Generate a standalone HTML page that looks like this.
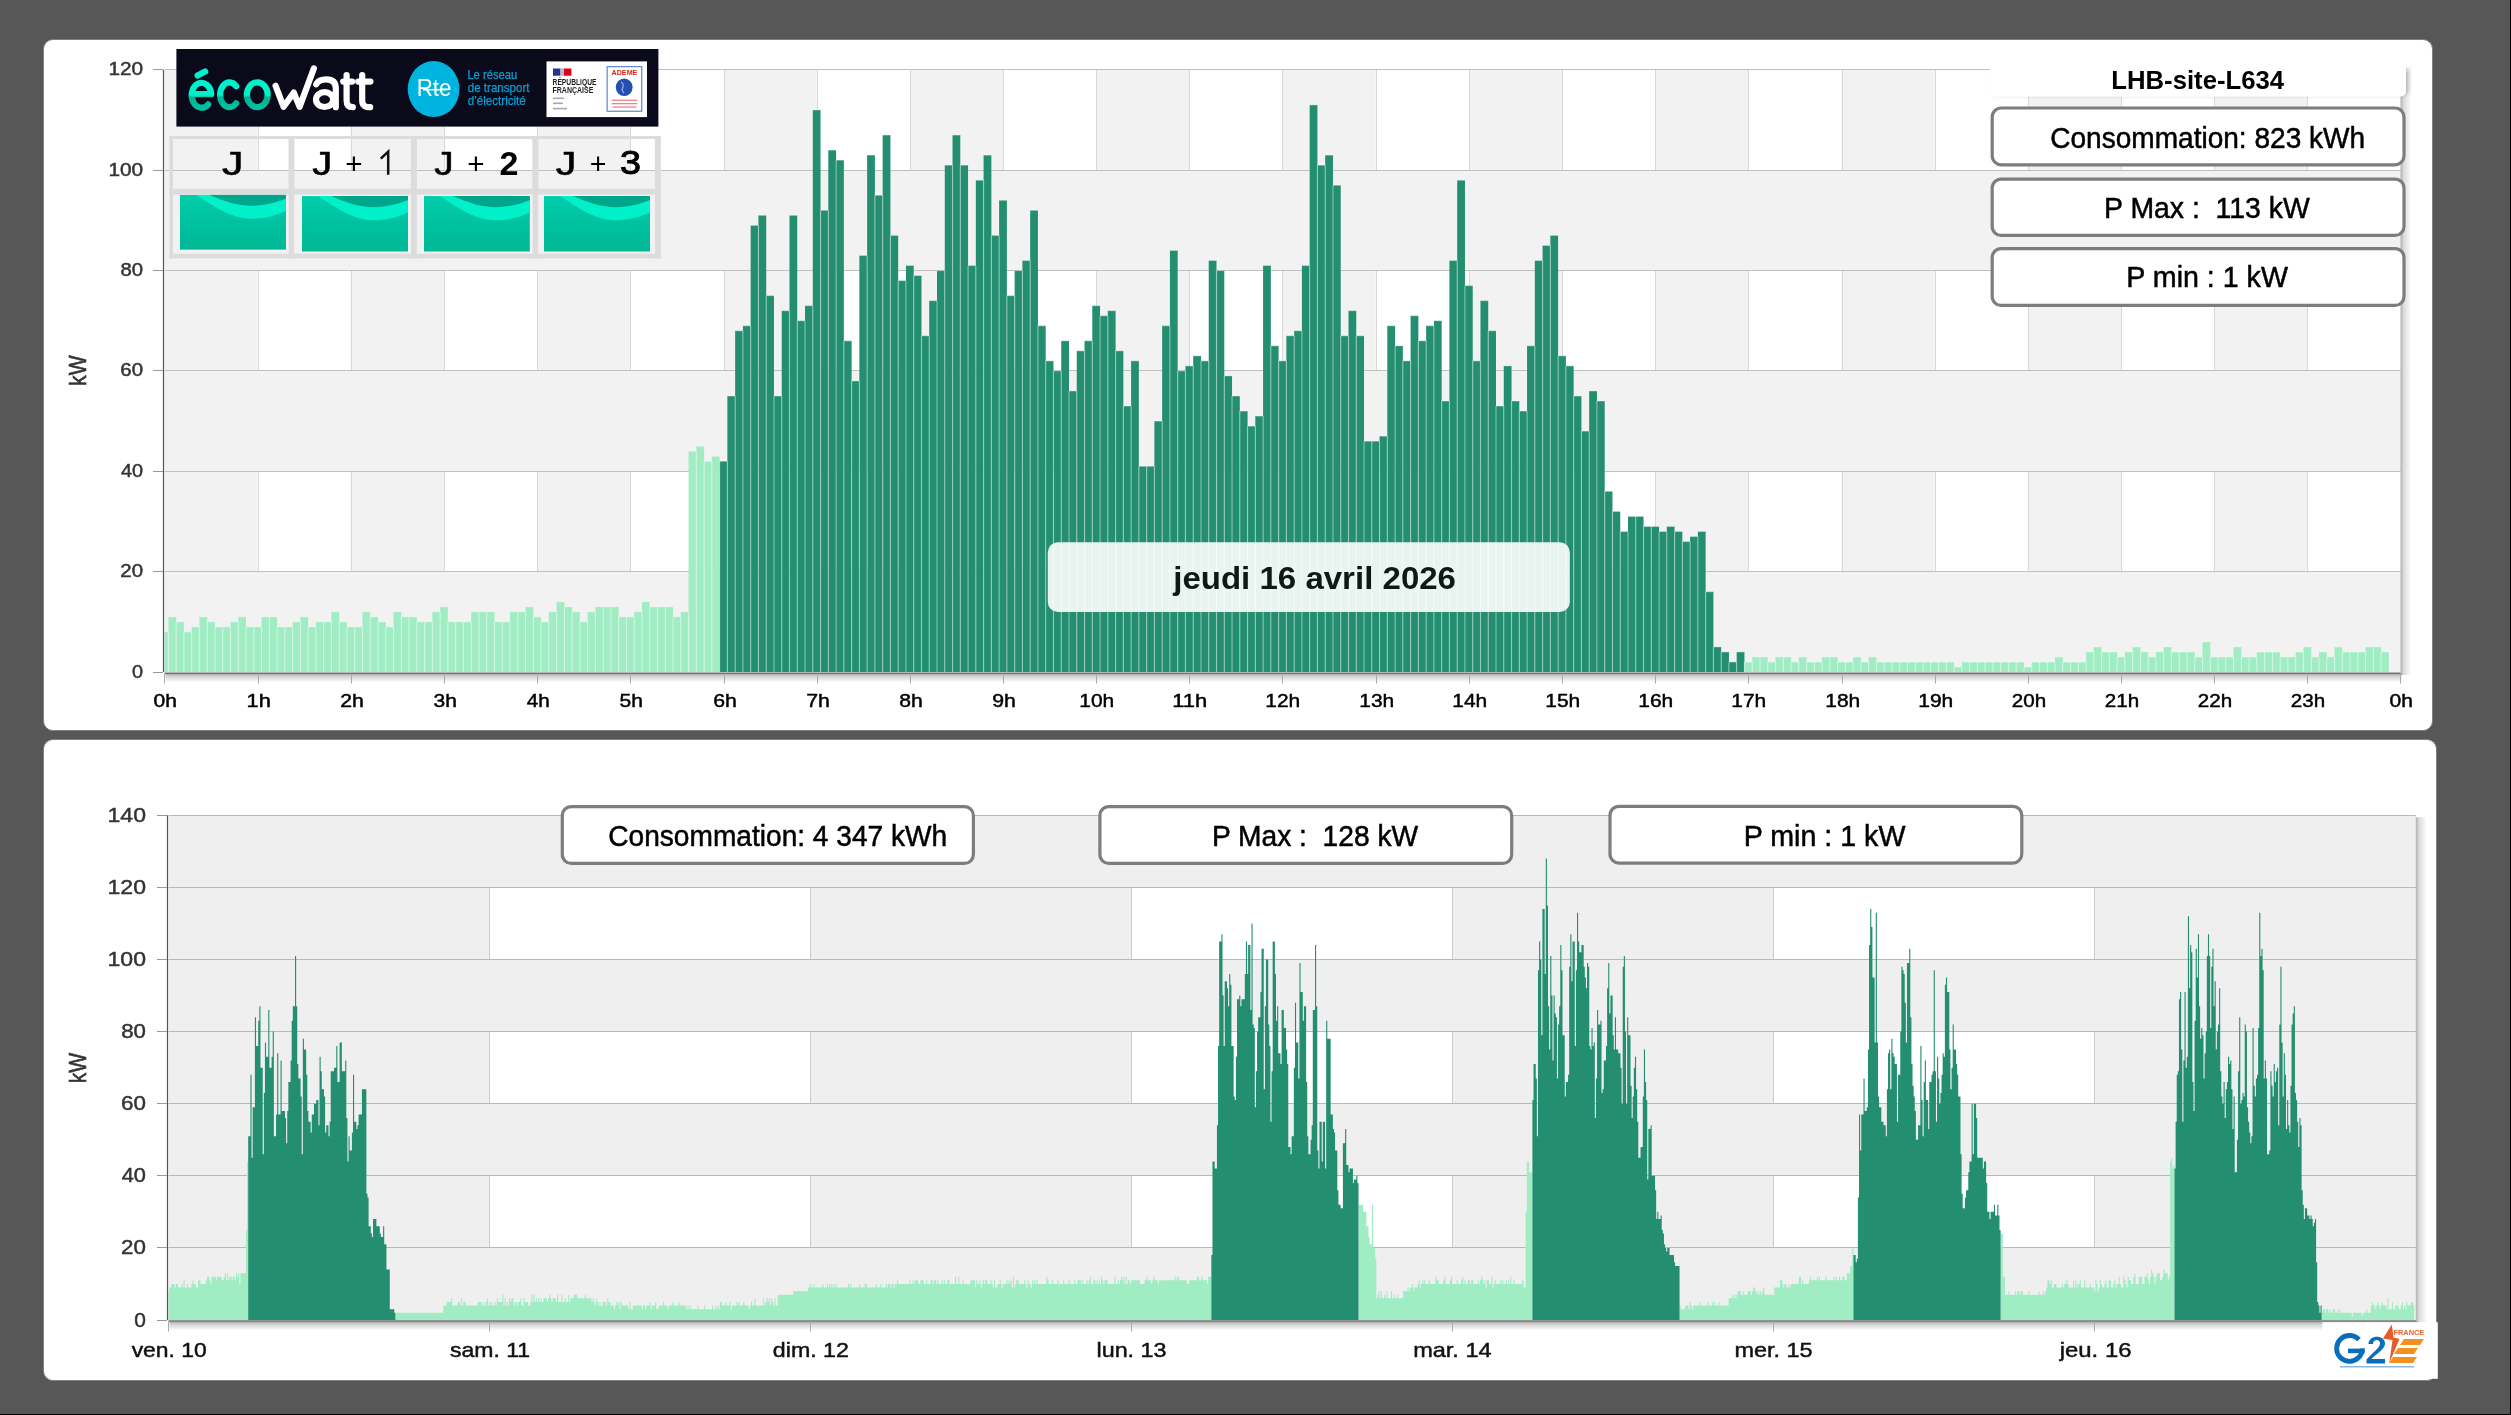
<!DOCTYPE html>
<html><head><meta charset="utf-8"><style>
html,body{margin:0;padding:0}
body{width:2511px;height:1415px;background:#575757;overflow:hidden;position:relative;font-family:"Liberation Sans",sans-serif}
.panel{position:absolute;background:#fff;border:1px solid #7f7f7f;border-radius:10px;box-sizing:border-box}
svg{position:absolute;left:0;top:0;font-family:"Liberation Sans",sans-serif;will-change:transform}
</style></head><body>
<div class="panel" style="left:43px;top:39px;width:2390px;height:692px"></div>
<div class="panel" style="left:43px;top:739px;width:2394px;height:642px"></div>
<svg width="2511" height="1415" viewBox="0 0 2511 1415">
<rect x="164.5" y="69.8" width="2236" height="602.2" fill="#fff"/>
<rect x="164.5" y="69.8" width="93.17" height="602.2" fill="#f2f2f2"/>
<rect x="350.83" y="69.8" width="93.17" height="602.2" fill="#f2f2f2"/>
<rect x="537.17" y="69.8" width="93.17" height="602.2" fill="#f2f2f2"/>
<rect x="723.5" y="69.8" width="93.17" height="602.2" fill="#f2f2f2"/>
<rect x="909.83" y="69.8" width="93.17" height="602.2" fill="#f2f2f2"/>
<rect x="1096.17" y="69.8" width="93.17" height="602.2" fill="#f2f2f2"/>
<rect x="1282.5" y="69.8" width="93.17" height="602.2" fill="#f2f2f2"/>
<rect x="1468.83" y="69.8" width="93.17" height="602.2" fill="#f2f2f2"/>
<rect x="1655.17" y="69.8" width="93.17" height="602.2" fill="#f2f2f2"/>
<rect x="1841.5" y="69.8" width="93.17" height="602.2" fill="#f2f2f2"/>
<rect x="2027.83" y="69.8" width="93.17" height="602.2" fill="#f2f2f2"/>
<rect x="2214.17" y="69.8" width="93.17" height="602.2" fill="#f2f2f2"/>
<line x1="258.5" y1="69.8" x2="258.5" y2="672.0" stroke="#d8d8d8"/>
<line x1="351.5" y1="69.8" x2="351.5" y2="672.0" stroke="#d8d8d8"/>
<line x1="444.5" y1="69.8" x2="444.5" y2="672.0" stroke="#d8d8d8"/>
<line x1="537.5" y1="69.8" x2="537.5" y2="672.0" stroke="#d8d8d8"/>
<line x1="630.5" y1="69.8" x2="630.5" y2="672.0" stroke="#d8d8d8"/>
<line x1="724.5" y1="69.8" x2="724.5" y2="672.0" stroke="#d8d8d8"/>
<line x1="817.5" y1="69.8" x2="817.5" y2="672.0" stroke="#d8d8d8"/>
<line x1="910.5" y1="69.8" x2="910.5" y2="672.0" stroke="#d8d8d8"/>
<line x1="1003.5" y1="69.8" x2="1003.5" y2="672.0" stroke="#d8d8d8"/>
<line x1="1096.5" y1="69.8" x2="1096.5" y2="672.0" stroke="#d8d8d8"/>
<line x1="1189.5" y1="69.8" x2="1189.5" y2="672.0" stroke="#d8d8d8"/>
<line x1="1282.5" y1="69.8" x2="1282.5" y2="672.0" stroke="#d8d8d8"/>
<line x1="1376.5" y1="69.8" x2="1376.5" y2="672.0" stroke="#d8d8d8"/>
<line x1="1469.5" y1="69.8" x2="1469.5" y2="672.0" stroke="#d8d8d8"/>
<line x1="1562.5" y1="69.8" x2="1562.5" y2="672.0" stroke="#d8d8d8"/>
<line x1="1655.5" y1="69.8" x2="1655.5" y2="672.0" stroke="#d8d8d8"/>
<line x1="1748.5" y1="69.8" x2="1748.5" y2="672.0" stroke="#d8d8d8"/>
<line x1="1842.5" y1="69.8" x2="1842.5" y2="672.0" stroke="#d8d8d8"/>
<line x1="1935.5" y1="69.8" x2="1935.5" y2="672.0" stroke="#d8d8d8"/>
<line x1="2028.5" y1="69.8" x2="2028.5" y2="672.0" stroke="#d8d8d8"/>
<line x1="2121.5" y1="69.8" x2="2121.5" y2="672.0" stroke="#d8d8d8"/>
<line x1="2214.5" y1="69.8" x2="2214.5" y2="672.0" stroke="#d8d8d8"/>
<line x1="2307.5" y1="69.8" x2="2307.5" y2="672.0" stroke="#d8d8d8"/>
<rect x="164.5" y="571.63" width="2236" height="100.37" fill="#f2f2f2"/>
<rect x="164.5" y="370.9" width="2236" height="100.37" fill="#f2f2f2"/>
<rect x="164.5" y="170.17" width="2236" height="100.37" fill="#f2f2f2"/>
<line x1="164.5" y1="571.5" x2="2400.5" y2="571.5" stroke="#c0c0c0"/>
<line x1="164.5" y1="471.5" x2="2400.5" y2="471.5" stroke="#c0c0c0"/>
<line x1="164.5" y1="370.5" x2="2400.5" y2="370.5" stroke="#c0c0c0"/>
<line x1="164.5" y1="270.5" x2="2400.5" y2="270.5" stroke="#c0c0c0"/>
<line x1="164.5" y1="170.5" x2="2400.5" y2="170.5" stroke="#c0c0c0"/>
<line x1="164.5" y1="69.5" x2="2400.5" y2="69.5" stroke="#c0c0c0"/>
<rect x="164.5" y="631.85" width="3.88" height="40.15" fill="#a0edc4"/>
<rect x="168.38" y="616.8" width="7.76" height="55.2" fill="#a0edc4"/>
<rect x="176.15" y="621.82" width="7.76" height="50.18" fill="#a0edc4"/>
<rect x="183.91" y="631.85" width="7.76" height="40.15" fill="#a0edc4"/>
<rect x="191.67" y="626.84" width="7.76" height="45.16" fill="#a0edc4"/>
<rect x="199.44" y="616.8" width="7.76" height="55.2" fill="#a0edc4"/>
<rect x="207.2" y="621.82" width="7.76" height="50.18" fill="#a0edc4"/>
<rect x="214.97" y="626.84" width="7.76" height="45.16" fill="#a0edc4"/>
<rect x="222.73" y="626.84" width="7.76" height="45.16" fill="#a0edc4"/>
<rect x="230.49" y="621.82" width="7.76" height="50.18" fill="#a0edc4"/>
<rect x="238.26" y="616.8" width="7.76" height="55.2" fill="#a0edc4"/>
<rect x="246.02" y="626.84" width="7.76" height="45.16" fill="#a0edc4"/>
<rect x="253.78" y="626.84" width="7.76" height="45.16" fill="#a0edc4"/>
<rect x="261.55" y="616.8" width="7.76" height="55.2" fill="#a0edc4"/>
<rect x="269.31" y="616.8" width="7.76" height="55.2" fill="#a0edc4"/>
<rect x="277.08" y="626.84" width="7.76" height="45.16" fill="#a0edc4"/>
<rect x="284.84" y="626.84" width="7.76" height="45.16" fill="#a0edc4"/>
<rect x="292.6" y="621.82" width="7.76" height="50.18" fill="#a0edc4"/>
<rect x="300.37" y="616.8" width="7.76" height="55.2" fill="#a0edc4"/>
<rect x="308.13" y="626.84" width="7.76" height="45.16" fill="#a0edc4"/>
<rect x="315.9" y="621.82" width="7.76" height="50.18" fill="#a0edc4"/>
<rect x="323.66" y="621.82" width="7.76" height="50.18" fill="#a0edc4"/>
<rect x="331.42" y="611.78" width="7.76" height="60.22" fill="#a0edc4"/>
<rect x="339.19" y="621.82" width="7.76" height="50.18" fill="#a0edc4"/>
<rect x="346.95" y="626.84" width="7.76" height="45.16" fill="#a0edc4"/>
<rect x="354.72" y="626.84" width="7.76" height="45.16" fill="#a0edc4"/>
<rect x="362.48" y="611.78" width="7.76" height="60.22" fill="#a0edc4"/>
<rect x="370.24" y="616.8" width="7.76" height="55.2" fill="#a0edc4"/>
<rect x="378.01" y="621.82" width="7.76" height="50.18" fill="#a0edc4"/>
<rect x="385.77" y="626.84" width="7.76" height="45.16" fill="#a0edc4"/>
<rect x="393.53" y="611.78" width="7.76" height="60.22" fill="#a0edc4"/>
<rect x="401.3" y="616.8" width="7.76" height="55.2" fill="#a0edc4"/>
<rect x="409.06" y="616.8" width="7.76" height="55.2" fill="#a0edc4"/>
<rect x="416.83" y="621.82" width="7.76" height="50.18" fill="#a0edc4"/>
<rect x="424.59" y="621.82" width="7.76" height="50.18" fill="#a0edc4"/>
<rect x="432.35" y="611.78" width="7.76" height="60.22" fill="#a0edc4"/>
<rect x="440.12" y="606.76" width="7.76" height="65.24" fill="#a0edc4"/>
<rect x="447.88" y="621.82" width="7.76" height="50.18" fill="#a0edc4"/>
<rect x="455.65" y="621.82" width="7.76" height="50.18" fill="#a0edc4"/>
<rect x="463.41" y="621.82" width="7.76" height="50.18" fill="#a0edc4"/>
<rect x="471.17" y="611.78" width="7.76" height="60.22" fill="#a0edc4"/>
<rect x="478.94" y="611.78" width="7.76" height="60.22" fill="#a0edc4"/>
<rect x="486.7" y="611.78" width="7.76" height="60.22" fill="#a0edc4"/>
<rect x="494.47" y="621.82" width="7.76" height="50.18" fill="#a0edc4"/>
<rect x="502.23" y="621.82" width="7.76" height="50.18" fill="#a0edc4"/>
<rect x="509.99" y="611.78" width="7.76" height="60.22" fill="#a0edc4"/>
<rect x="517.76" y="611.78" width="7.76" height="60.22" fill="#a0edc4"/>
<rect x="525.52" y="606.76" width="7.76" height="65.24" fill="#a0edc4"/>
<rect x="533.28" y="616.8" width="7.76" height="55.2" fill="#a0edc4"/>
<rect x="541.05" y="621.82" width="7.76" height="50.18" fill="#a0edc4"/>
<rect x="548.81" y="611.78" width="7.76" height="60.22" fill="#a0edc4"/>
<rect x="556.58" y="601.74" width="7.76" height="70.26" fill="#a0edc4"/>
<rect x="564.34" y="606.76" width="7.76" height="65.24" fill="#a0edc4"/>
<rect x="572.1" y="611.78" width="7.76" height="60.22" fill="#a0edc4"/>
<rect x="579.87" y="621.82" width="7.76" height="50.18" fill="#a0edc4"/>
<rect x="587.63" y="611.78" width="7.76" height="60.22" fill="#a0edc4"/>
<rect x="595.4" y="606.76" width="7.76" height="65.24" fill="#a0edc4"/>
<rect x="603.16" y="606.76" width="7.76" height="65.24" fill="#a0edc4"/>
<rect x="610.92" y="606.76" width="7.76" height="65.24" fill="#a0edc4"/>
<rect x="618.69" y="616.8" width="7.76" height="55.2" fill="#a0edc4"/>
<rect x="626.45" y="616.8" width="7.76" height="55.2" fill="#a0edc4"/>
<rect x="634.22" y="611.78" width="7.76" height="60.22" fill="#a0edc4"/>
<rect x="641.98" y="601.74" width="7.76" height="70.26" fill="#a0edc4"/>
<rect x="649.74" y="606.76" width="7.76" height="65.24" fill="#a0edc4"/>
<rect x="657.51" y="606.76" width="7.76" height="65.24" fill="#a0edc4"/>
<rect x="665.27" y="606.76" width="7.76" height="65.24" fill="#a0edc4"/>
<rect x="673.03" y="616.8" width="7.76" height="55.2" fill="#a0edc4"/>
<rect x="680.8" y="611.78" width="7.76" height="60.22" fill="#a0edc4"/>
<rect x="688.56" y="451.19" width="7.76" height="220.81" fill="#a0edc4"/>
<rect x="696.33" y="446.17" width="7.76" height="225.83" fill="#a0edc4"/>
<rect x="704.09" y="461.23" width="7.76" height="210.77" fill="#a0edc4"/>
<rect x="711.85" y="456.21" width="7.76" height="215.79" fill="#a0edc4"/>
<rect x="719.62" y="461.23" width="7.76" height="210.77" fill="#238e70"/>
<rect x="727.38" y="395.99" width="7.76" height="276.01" fill="#238e70"/>
<rect x="735.15" y="330.75" width="7.76" height="341.25" fill="#238e70"/>
<rect x="742.91" y="325.74" width="7.76" height="346.26" fill="#238e70"/>
<rect x="750.67" y="225.37" width="7.76" height="446.63" fill="#238e70"/>
<rect x="758.44" y="215.33" width="7.76" height="456.67" fill="#238e70"/>
<rect x="766.2" y="295.62" width="7.76" height="376.38" fill="#238e70"/>
<rect x="773.97" y="395.99" width="7.76" height="276.01" fill="#238e70"/>
<rect x="781.73" y="310.68" width="7.76" height="361.32" fill="#238e70"/>
<rect x="789.49" y="215.33" width="7.76" height="456.67" fill="#238e70"/>
<rect x="797.26" y="320.72" width="7.76" height="351.28" fill="#238e70"/>
<rect x="805.02" y="305.66" width="7.76" height="366.34" fill="#238e70"/>
<rect x="812.78" y="109.95" width="7.76" height="562.05" fill="#238e70"/>
<rect x="820.55" y="210.31" width="7.76" height="461.69" fill="#238e70"/>
<rect x="828.31" y="150.09" width="7.76" height="521.91" fill="#238e70"/>
<rect x="836.08" y="160.13" width="7.76" height="511.87" fill="#238e70"/>
<rect x="843.84" y="340.79" width="7.76" height="331.21" fill="#238e70"/>
<rect x="851.6" y="380.94" width="7.76" height="291.06" fill="#238e70"/>
<rect x="859.37" y="255.48" width="7.76" height="416.52" fill="#238e70"/>
<rect x="867.13" y="155.11" width="7.76" height="516.89" fill="#238e70"/>
<rect x="874.9" y="195.26" width="7.76" height="476.74" fill="#238e70"/>
<rect x="882.66" y="135.04" width="7.76" height="536.96" fill="#238e70"/>
<rect x="890.42" y="235.4" width="7.76" height="436.6" fill="#238e70"/>
<rect x="898.19" y="280.57" width="7.76" height="391.43" fill="#238e70"/>
<rect x="905.95" y="265.51" width="7.76" height="406.49" fill="#238e70"/>
<rect x="913.72" y="275.55" width="7.76" height="396.45" fill="#238e70"/>
<rect x="921.48" y="335.77" width="7.76" height="336.23" fill="#238e70"/>
<rect x="929.24" y="300.64" width="7.76" height="371.36" fill="#238e70"/>
<rect x="937.01" y="270.53" width="7.76" height="401.47" fill="#238e70"/>
<rect x="944.77" y="165.15" width="7.76" height="506.85" fill="#238e70"/>
<rect x="952.53" y="135.04" width="7.76" height="536.96" fill="#238e70"/>
<rect x="960.3" y="165.15" width="7.76" height="506.85" fill="#238e70"/>
<rect x="968.06" y="265.51" width="7.76" height="406.49" fill="#238e70"/>
<rect x="975.83" y="180.2" width="7.76" height="491.8" fill="#238e70"/>
<rect x="983.59" y="155.11" width="7.76" height="516.89" fill="#238e70"/>
<rect x="991.35" y="235.4" width="7.76" height="436.6" fill="#238e70"/>
<rect x="999.12" y="200.28" width="7.76" height="471.72" fill="#238e70"/>
<rect x="1006.88" y="295.62" width="7.76" height="376.38" fill="#238e70"/>
<rect x="1014.65" y="270.53" width="7.76" height="401.47" fill="#238e70"/>
<rect x="1022.41" y="260.5" width="7.76" height="411.5" fill="#238e70"/>
<rect x="1030.17" y="210.31" width="7.76" height="461.69" fill="#238e70"/>
<rect x="1037.94" y="325.74" width="7.76" height="346.26" fill="#238e70"/>
<rect x="1045.7" y="360.86" width="7.76" height="311.14" fill="#238e70"/>
<rect x="1053.47" y="370.9" width="7.76" height="301.1" fill="#238e70"/>
<rect x="1061.23" y="340.79" width="7.76" height="331.21" fill="#238e70"/>
<rect x="1068.99" y="390.97" width="7.76" height="281.03" fill="#238e70"/>
<rect x="1076.76" y="350.83" width="7.76" height="321.17" fill="#238e70"/>
<rect x="1084.52" y="340.79" width="7.76" height="331.21" fill="#238e70"/>
<rect x="1092.28" y="305.66" width="7.76" height="366.34" fill="#238e70"/>
<rect x="1100.05" y="315.7" width="7.76" height="356.3" fill="#238e70"/>
<rect x="1107.81" y="310.68" width="7.76" height="361.32" fill="#238e70"/>
<rect x="1115.58" y="350.83" width="7.76" height="321.17" fill="#238e70"/>
<rect x="1123.34" y="406.03" width="7.76" height="265.97" fill="#238e70"/>
<rect x="1131.1" y="360.86" width="7.76" height="311.14" fill="#238e70"/>
<rect x="1138.87" y="466.25" width="7.76" height="205.75" fill="#238e70"/>
<rect x="1146.63" y="466.25" width="7.76" height="205.75" fill="#238e70"/>
<rect x="1154.4" y="421.08" width="7.76" height="250.92" fill="#238e70"/>
<rect x="1162.16" y="325.74" width="7.76" height="346.26" fill="#238e70"/>
<rect x="1169.92" y="250.46" width="7.76" height="421.54" fill="#238e70"/>
<rect x="1177.69" y="370.9" width="7.76" height="301.1" fill="#238e70"/>
<rect x="1185.45" y="365.88" width="7.76" height="306.12" fill="#238e70"/>
<rect x="1193.22" y="355.84" width="7.76" height="316.16" fill="#238e70"/>
<rect x="1200.98" y="360.86" width="7.76" height="311.14" fill="#238e70"/>
<rect x="1208.74" y="260.5" width="7.76" height="411.5" fill="#238e70"/>
<rect x="1216.51" y="270.53" width="7.76" height="401.47" fill="#238e70"/>
<rect x="1224.27" y="375.92" width="7.76" height="296.08" fill="#238e70"/>
<rect x="1232.03" y="395.99" width="7.76" height="276.01" fill="#238e70"/>
<rect x="1239.8" y="411.05" width="7.76" height="260.95" fill="#238e70"/>
<rect x="1247.56" y="426.1" width="7.76" height="245.9" fill="#238e70"/>
<rect x="1255.33" y="416.06" width="7.76" height="255.94" fill="#238e70"/>
<rect x="1263.09" y="265.51" width="7.76" height="406.49" fill="#238e70"/>
<rect x="1270.85" y="345.81" width="7.76" height="326.19" fill="#238e70"/>
<rect x="1278.62" y="360.86" width="7.76" height="311.14" fill="#238e70"/>
<rect x="1286.38" y="335.77" width="7.76" height="336.23" fill="#238e70"/>
<rect x="1294.15" y="330.75" width="7.76" height="341.25" fill="#238e70"/>
<rect x="1301.91" y="265.51" width="7.76" height="406.49" fill="#238e70"/>
<rect x="1309.67" y="104.93" width="7.76" height="567.07" fill="#238e70"/>
<rect x="1317.44" y="165.15" width="7.76" height="506.85" fill="#238e70"/>
<rect x="1325.2" y="155.11" width="7.76" height="516.89" fill="#238e70"/>
<rect x="1332.97" y="185.22" width="7.76" height="486.78" fill="#238e70"/>
<rect x="1340.73" y="335.77" width="7.76" height="336.23" fill="#238e70"/>
<rect x="1348.49" y="310.68" width="7.76" height="361.32" fill="#238e70"/>
<rect x="1356.26" y="335.77" width="7.76" height="336.23" fill="#238e70"/>
<rect x="1364.02" y="441.16" width="7.76" height="230.84" fill="#238e70"/>
<rect x="1371.78" y="441.16" width="7.76" height="230.84" fill="#238e70"/>
<rect x="1379.55" y="436.14" width="7.76" height="235.86" fill="#238e70"/>
<rect x="1387.31" y="325.74" width="7.76" height="346.26" fill="#238e70"/>
<rect x="1395.08" y="345.81" width="7.76" height="326.19" fill="#238e70"/>
<rect x="1402.84" y="360.86" width="7.76" height="311.14" fill="#238e70"/>
<rect x="1410.6" y="315.7" width="7.76" height="356.3" fill="#238e70"/>
<rect x="1418.37" y="340.79" width="7.76" height="331.21" fill="#238e70"/>
<rect x="1426.13" y="325.74" width="7.76" height="346.26" fill="#238e70"/>
<rect x="1433.9" y="320.72" width="7.76" height="351.28" fill="#238e70"/>
<rect x="1441.66" y="401.01" width="7.76" height="270.99" fill="#238e70"/>
<rect x="1449.42" y="260.5" width="7.76" height="411.5" fill="#238e70"/>
<rect x="1457.19" y="180.2" width="7.76" height="491.8" fill="#238e70"/>
<rect x="1464.95" y="285.59" width="7.76" height="386.41" fill="#238e70"/>
<rect x="1472.72" y="360.86" width="7.76" height="311.14" fill="#238e70"/>
<rect x="1480.48" y="300.64" width="7.76" height="371.36" fill="#238e70"/>
<rect x="1488.24" y="330.75" width="7.76" height="341.25" fill="#238e70"/>
<rect x="1496.01" y="406.03" width="7.76" height="265.97" fill="#238e70"/>
<rect x="1503.77" y="365.88" width="7.76" height="306.12" fill="#238e70"/>
<rect x="1511.53" y="401.01" width="7.76" height="270.99" fill="#238e70"/>
<rect x="1519.3" y="411.05" width="7.76" height="260.95" fill="#238e70"/>
<rect x="1527.06" y="345.81" width="7.76" height="326.19" fill="#238e70"/>
<rect x="1534.83" y="260.5" width="7.76" height="411.5" fill="#238e70"/>
<rect x="1542.59" y="245.44" width="7.76" height="426.56" fill="#238e70"/>
<rect x="1550.35" y="235.4" width="7.76" height="436.6" fill="#238e70"/>
<rect x="1558.12" y="355.84" width="7.76" height="316.16" fill="#238e70"/>
<rect x="1565.88" y="365.88" width="7.76" height="306.12" fill="#238e70"/>
<rect x="1573.65" y="395.99" width="7.76" height="276.01" fill="#238e70"/>
<rect x="1581.41" y="431.12" width="7.76" height="240.88" fill="#238e70"/>
<rect x="1589.17" y="390.97" width="7.76" height="281.03" fill="#238e70"/>
<rect x="1596.94" y="401.01" width="7.76" height="270.99" fill="#238e70"/>
<rect x="1604.7" y="491.34" width="7.76" height="180.66" fill="#238e70"/>
<rect x="1612.47" y="511.41" width="7.76" height="160.59" fill="#238e70"/>
<rect x="1620.23" y="531.49" width="7.76" height="140.51" fill="#238e70"/>
<rect x="1627.99" y="516.43" width="7.76" height="155.57" fill="#238e70"/>
<rect x="1635.76" y="516.43" width="7.76" height="155.57" fill="#238e70"/>
<rect x="1643.52" y="526.47" width="7.76" height="145.53" fill="#238e70"/>
<rect x="1651.28" y="526.47" width="7.76" height="145.53" fill="#238e70"/>
<rect x="1659.05" y="531.49" width="7.76" height="140.51" fill="#238e70"/>
<rect x="1666.81" y="526.47" width="7.76" height="145.53" fill="#238e70"/>
<rect x="1674.58" y="531.49" width="7.76" height="140.51" fill="#238e70"/>
<rect x="1682.34" y="541.52" width="7.76" height="130.48" fill="#238e70"/>
<rect x="1690.1" y="536.5" width="7.76" height="135.5" fill="#238e70"/>
<rect x="1697.87" y="531.49" width="7.76" height="140.51" fill="#238e70"/>
<rect x="1705.63" y="591.71" width="7.76" height="80.29" fill="#238e70"/>
<rect x="1713.4" y="646.91" width="7.76" height="25.09" fill="#238e70"/>
<rect x="1721.16" y="651.93" width="7.76" height="20.07" fill="#238e70"/>
<rect x="1728.92" y="661.96" width="7.76" height="10.04" fill="#238e70"/>
<rect x="1736.69" y="651.93" width="7.76" height="20.07" fill="#238e70"/>
<rect x="1744.45" y="661.96" width="7.76" height="10.04" fill="#a0edc4"/>
<rect x="1752.22" y="656.95" width="7.76" height="15.05" fill="#a0edc4"/>
<rect x="1759.98" y="656.95" width="7.76" height="15.05" fill="#a0edc4"/>
<rect x="1767.74" y="661.96" width="7.76" height="10.04" fill="#a0edc4"/>
<rect x="1775.51" y="656.95" width="7.76" height="15.05" fill="#a0edc4"/>
<rect x="1783.27" y="656.95" width="7.76" height="15.05" fill="#a0edc4"/>
<rect x="1791.03" y="661.96" width="7.76" height="10.04" fill="#a0edc4"/>
<rect x="1798.8" y="656.95" width="7.76" height="15.05" fill="#a0edc4"/>
<rect x="1806.56" y="661.96" width="7.76" height="10.04" fill="#a0edc4"/>
<rect x="1814.33" y="661.96" width="7.76" height="10.04" fill="#a0edc4"/>
<rect x="1822.09" y="656.95" width="7.76" height="15.05" fill="#a0edc4"/>
<rect x="1829.85" y="656.95" width="7.76" height="15.05" fill="#a0edc4"/>
<rect x="1837.62" y="661.96" width="7.76" height="10.04" fill="#a0edc4"/>
<rect x="1845.38" y="661.96" width="7.76" height="10.04" fill="#a0edc4"/>
<rect x="1853.15" y="656.95" width="7.76" height="15.05" fill="#a0edc4"/>
<rect x="1860.91" y="661.96" width="7.76" height="10.04" fill="#a0edc4"/>
<rect x="1868.67" y="656.95" width="7.76" height="15.05" fill="#a0edc4"/>
<rect x="1876.44" y="661.96" width="7.76" height="10.04" fill="#a0edc4"/>
<rect x="1884.2" y="661.96" width="7.76" height="10.04" fill="#a0edc4"/>
<rect x="1891.97" y="661.96" width="7.76" height="10.04" fill="#a0edc4"/>
<rect x="1899.73" y="661.96" width="7.76" height="10.04" fill="#a0edc4"/>
<rect x="1907.49" y="661.96" width="7.76" height="10.04" fill="#a0edc4"/>
<rect x="1915.26" y="661.96" width="7.76" height="10.04" fill="#a0edc4"/>
<rect x="1923.02" y="661.96" width="7.76" height="10.04" fill="#a0edc4"/>
<rect x="1930.78" y="661.96" width="7.76" height="10.04" fill="#a0edc4"/>
<rect x="1938.55" y="661.96" width="7.76" height="10.04" fill="#a0edc4"/>
<rect x="1946.31" y="661.96" width="7.76" height="10.04" fill="#a0edc4"/>
<rect x="1954.08" y="666.98" width="7.76" height="5.02" fill="#a0edc4"/>
<rect x="1961.84" y="661.96" width="7.76" height="10.04" fill="#a0edc4"/>
<rect x="1969.6" y="661.96" width="7.76" height="10.04" fill="#a0edc4"/>
<rect x="1977.37" y="661.96" width="7.76" height="10.04" fill="#a0edc4"/>
<rect x="1985.13" y="661.96" width="7.76" height="10.04" fill="#a0edc4"/>
<rect x="1992.9" y="661.96" width="7.76" height="10.04" fill="#a0edc4"/>
<rect x="2000.66" y="661.96" width="7.76" height="10.04" fill="#a0edc4"/>
<rect x="2008.42" y="661.96" width="7.76" height="10.04" fill="#a0edc4"/>
<rect x="2016.19" y="661.96" width="7.76" height="10.04" fill="#a0edc4"/>
<rect x="2023.95" y="666.98" width="7.76" height="5.02" fill="#a0edc4"/>
<rect x="2031.72" y="661.96" width="7.76" height="10.04" fill="#a0edc4"/>
<rect x="2039.48" y="661.96" width="7.76" height="10.04" fill="#a0edc4"/>
<rect x="2047.24" y="661.96" width="7.76" height="10.04" fill="#a0edc4"/>
<rect x="2055.01" y="656.95" width="7.76" height="15.05" fill="#a0edc4"/>
<rect x="2062.77" y="661.96" width="7.76" height="10.04" fill="#a0edc4"/>
<rect x="2070.53" y="661.96" width="7.76" height="10.04" fill="#a0edc4"/>
<rect x="2078.3" y="661.96" width="7.76" height="10.04" fill="#a0edc4"/>
<rect x="2086.06" y="651.93" width="7.76" height="20.07" fill="#a0edc4"/>
<rect x="2093.83" y="646.91" width="7.76" height="25.09" fill="#a0edc4"/>
<rect x="2101.59" y="651.93" width="7.76" height="20.07" fill="#a0edc4"/>
<rect x="2109.35" y="651.93" width="7.76" height="20.07" fill="#a0edc4"/>
<rect x="2117.12" y="656.95" width="7.76" height="15.05" fill="#a0edc4"/>
<rect x="2124.88" y="651.93" width="7.76" height="20.07" fill="#a0edc4"/>
<rect x="2132.65" y="646.91" width="7.76" height="25.09" fill="#a0edc4"/>
<rect x="2140.41" y="651.93" width="7.76" height="20.07" fill="#a0edc4"/>
<rect x="2148.17" y="656.95" width="7.76" height="15.05" fill="#a0edc4"/>
<rect x="2155.94" y="651.93" width="7.76" height="20.07" fill="#a0edc4"/>
<rect x="2163.7" y="646.91" width="7.76" height="25.09" fill="#a0edc4"/>
<rect x="2171.47" y="651.93" width="7.76" height="20.07" fill="#a0edc4"/>
<rect x="2179.23" y="651.93" width="7.76" height="20.07" fill="#a0edc4"/>
<rect x="2186.99" y="651.93" width="7.76" height="20.07" fill="#a0edc4"/>
<rect x="2194.76" y="656.95" width="7.76" height="15.05" fill="#a0edc4"/>
<rect x="2202.52" y="641.89" width="7.76" height="30.11" fill="#a0edc4"/>
<rect x="2210.28" y="656.95" width="7.76" height="15.05" fill="#a0edc4"/>
<rect x="2218.05" y="656.95" width="7.76" height="15.05" fill="#a0edc4"/>
<rect x="2225.81" y="656.95" width="7.76" height="15.05" fill="#a0edc4"/>
<rect x="2233.58" y="646.91" width="7.76" height="25.09" fill="#a0edc4"/>
<rect x="2241.34" y="656.95" width="7.76" height="15.05" fill="#a0edc4"/>
<rect x="2249.1" y="656.95" width="7.76" height="15.05" fill="#a0edc4"/>
<rect x="2256.87" y="651.93" width="7.76" height="20.07" fill="#a0edc4"/>
<rect x="2264.63" y="651.93" width="7.76" height="20.07" fill="#a0edc4"/>
<rect x="2272.4" y="651.93" width="7.76" height="20.07" fill="#a0edc4"/>
<rect x="2280.16" y="656.95" width="7.76" height="15.05" fill="#a0edc4"/>
<rect x="2287.92" y="656.95" width="7.76" height="15.05" fill="#a0edc4"/>
<rect x="2295.69" y="651.93" width="7.76" height="20.07" fill="#a0edc4"/>
<rect x="2303.45" y="646.91" width="7.76" height="25.09" fill="#a0edc4"/>
<rect x="2311.22" y="656.95" width="7.76" height="15.05" fill="#a0edc4"/>
<rect x="2318.98" y="651.93" width="7.76" height="20.07" fill="#a0edc4"/>
<rect x="2326.74" y="656.95" width="7.76" height="15.05" fill="#a0edc4"/>
<rect x="2334.51" y="646.91" width="7.76" height="25.09" fill="#a0edc4"/>
<rect x="2342.27" y="651.93" width="7.76" height="20.07" fill="#a0edc4"/>
<rect x="2350.03" y="651.93" width="7.76" height="20.07" fill="#a0edc4"/>
<rect x="2357.8" y="651.93" width="7.76" height="20.07" fill="#a0edc4"/>
<rect x="2365.56" y="646.91" width="7.76" height="25.09" fill="#a0edc4"/>
<rect x="2373.33" y="646.91" width="7.76" height="25.09" fill="#a0edc4"/>
<rect x="2381.09" y="651.93" width="7.76" height="20.07" fill="#a0edc4"/>
<rect x="164.5" y="631.25" width="3.88" height="1.2" fill="#fff" fill-opacity="0.3"/>
<rect x="168.38" y="616.2" width="7.76" height="1.2" fill="#fff" fill-opacity="0.3"/>
<rect x="176.15" y="621.22" width="7.76" height="1.2" fill="#fff" fill-opacity="0.3"/>
<rect x="183.91" y="631.25" width="7.76" height="1.2" fill="#fff" fill-opacity="0.3"/>
<rect x="191.67" y="626.24" width="7.76" height="1.2" fill="#fff" fill-opacity="0.3"/>
<rect x="199.44" y="616.2" width="7.76" height="1.2" fill="#fff" fill-opacity="0.3"/>
<rect x="207.2" y="621.22" width="7.76" height="1.2" fill="#fff" fill-opacity="0.3"/>
<rect x="214.97" y="626.24" width="7.76" height="1.2" fill="#fff" fill-opacity="0.3"/>
<rect x="222.73" y="626.24" width="7.76" height="1.2" fill="#fff" fill-opacity="0.3"/>
<rect x="230.49" y="621.22" width="7.76" height="1.2" fill="#fff" fill-opacity="0.3"/>
<rect x="238.26" y="616.2" width="7.76" height="1.2" fill="#fff" fill-opacity="0.3"/>
<rect x="246.02" y="626.24" width="7.76" height="1.2" fill="#fff" fill-opacity="0.3"/>
<rect x="253.78" y="626.24" width="7.76" height="1.2" fill="#fff" fill-opacity="0.3"/>
<rect x="261.55" y="616.2" width="7.76" height="1.2" fill="#fff" fill-opacity="0.3"/>
<rect x="269.31" y="616.2" width="7.76" height="1.2" fill="#fff" fill-opacity="0.3"/>
<rect x="277.08" y="626.24" width="7.76" height="1.2" fill="#fff" fill-opacity="0.3"/>
<rect x="284.84" y="626.24" width="7.76" height="1.2" fill="#fff" fill-opacity="0.3"/>
<rect x="292.6" y="621.22" width="7.76" height="1.2" fill="#fff" fill-opacity="0.3"/>
<rect x="300.37" y="616.2" width="7.76" height="1.2" fill="#fff" fill-opacity="0.3"/>
<rect x="308.13" y="626.24" width="7.76" height="1.2" fill="#fff" fill-opacity="0.3"/>
<rect x="315.9" y="621.22" width="7.76" height="1.2" fill="#fff" fill-opacity="0.3"/>
<rect x="323.66" y="621.22" width="7.76" height="1.2" fill="#fff" fill-opacity="0.3"/>
<rect x="331.42" y="611.18" width="7.76" height="1.2" fill="#fff" fill-opacity="0.3"/>
<rect x="339.19" y="621.22" width="7.76" height="1.2" fill="#fff" fill-opacity="0.3"/>
<rect x="346.95" y="626.24" width="7.76" height="1.2" fill="#fff" fill-opacity="0.3"/>
<rect x="354.72" y="626.24" width="7.76" height="1.2" fill="#fff" fill-opacity="0.3"/>
<rect x="362.48" y="611.18" width="7.76" height="1.2" fill="#fff" fill-opacity="0.3"/>
<rect x="370.24" y="616.2" width="7.76" height="1.2" fill="#fff" fill-opacity="0.3"/>
<rect x="378.01" y="621.22" width="7.76" height="1.2" fill="#fff" fill-opacity="0.3"/>
<rect x="385.77" y="626.24" width="7.76" height="1.2" fill="#fff" fill-opacity="0.3"/>
<rect x="393.53" y="611.18" width="7.76" height="1.2" fill="#fff" fill-opacity="0.3"/>
<rect x="401.3" y="616.2" width="7.76" height="1.2" fill="#fff" fill-opacity="0.3"/>
<rect x="409.06" y="616.2" width="7.76" height="1.2" fill="#fff" fill-opacity="0.3"/>
<rect x="416.83" y="621.22" width="7.76" height="1.2" fill="#fff" fill-opacity="0.3"/>
<rect x="424.59" y="621.22" width="7.76" height="1.2" fill="#fff" fill-opacity="0.3"/>
<rect x="432.35" y="611.18" width="7.76" height="1.2" fill="#fff" fill-opacity="0.3"/>
<rect x="440.12" y="606.16" width="7.76" height="1.2" fill="#fff" fill-opacity="0.3"/>
<rect x="447.88" y="621.22" width="7.76" height="1.2" fill="#fff" fill-opacity="0.3"/>
<rect x="455.65" y="621.22" width="7.76" height="1.2" fill="#fff" fill-opacity="0.3"/>
<rect x="463.41" y="621.22" width="7.76" height="1.2" fill="#fff" fill-opacity="0.3"/>
<rect x="471.17" y="611.18" width="7.76" height="1.2" fill="#fff" fill-opacity="0.3"/>
<rect x="478.94" y="611.18" width="7.76" height="1.2" fill="#fff" fill-opacity="0.3"/>
<rect x="486.7" y="611.18" width="7.76" height="1.2" fill="#fff" fill-opacity="0.3"/>
<rect x="494.47" y="621.22" width="7.76" height="1.2" fill="#fff" fill-opacity="0.3"/>
<rect x="502.23" y="621.22" width="7.76" height="1.2" fill="#fff" fill-opacity="0.3"/>
<rect x="509.99" y="611.18" width="7.76" height="1.2" fill="#fff" fill-opacity="0.3"/>
<rect x="517.76" y="611.18" width="7.76" height="1.2" fill="#fff" fill-opacity="0.3"/>
<rect x="525.52" y="606.16" width="7.76" height="1.2" fill="#fff" fill-opacity="0.3"/>
<rect x="533.28" y="616.2" width="7.76" height="1.2" fill="#fff" fill-opacity="0.3"/>
<rect x="541.05" y="621.22" width="7.76" height="1.2" fill="#fff" fill-opacity="0.3"/>
<rect x="548.81" y="611.18" width="7.76" height="1.2" fill="#fff" fill-opacity="0.3"/>
<rect x="556.58" y="601.14" width="7.76" height="1.2" fill="#fff" fill-opacity="0.3"/>
<rect x="564.34" y="606.16" width="7.76" height="1.2" fill="#fff" fill-opacity="0.3"/>
<rect x="572.1" y="611.18" width="7.76" height="1.2" fill="#fff" fill-opacity="0.3"/>
<rect x="579.87" y="621.22" width="7.76" height="1.2" fill="#fff" fill-opacity="0.3"/>
<rect x="587.63" y="611.18" width="7.76" height="1.2" fill="#fff" fill-opacity="0.3"/>
<rect x="595.4" y="606.16" width="7.76" height="1.2" fill="#fff" fill-opacity="0.3"/>
<rect x="603.16" y="606.16" width="7.76" height="1.2" fill="#fff" fill-opacity="0.3"/>
<rect x="610.92" y="606.16" width="7.76" height="1.2" fill="#fff" fill-opacity="0.3"/>
<rect x="618.69" y="616.2" width="7.76" height="1.2" fill="#fff" fill-opacity="0.3"/>
<rect x="626.45" y="616.2" width="7.76" height="1.2" fill="#fff" fill-opacity="0.3"/>
<rect x="634.22" y="611.18" width="7.76" height="1.2" fill="#fff" fill-opacity="0.3"/>
<rect x="641.98" y="601.14" width="7.76" height="1.2" fill="#fff" fill-opacity="0.3"/>
<rect x="649.74" y="606.16" width="7.76" height="1.2" fill="#fff" fill-opacity="0.3"/>
<rect x="657.51" y="606.16" width="7.76" height="1.2" fill="#fff" fill-opacity="0.3"/>
<rect x="665.27" y="606.16" width="7.76" height="1.2" fill="#fff" fill-opacity="0.3"/>
<rect x="673.03" y="616.2" width="7.76" height="1.2" fill="#fff" fill-opacity="0.3"/>
<rect x="680.8" y="611.18" width="7.76" height="1.2" fill="#fff" fill-opacity="0.3"/>
<rect x="688.56" y="450.59" width="7.76" height="1.2" fill="#fff" fill-opacity="0.3"/>
<rect x="696.33" y="445.57" width="7.76" height="1.2" fill="#fff" fill-opacity="0.3"/>
<rect x="704.09" y="460.63" width="7.76" height="1.2" fill="#fff" fill-opacity="0.3"/>
<rect x="711.85" y="455.61" width="7.76" height="1.2" fill="#fff" fill-opacity="0.3"/>
<rect x="719.62" y="460.63" width="7.76" height="1.2" fill="#fff" fill-opacity="0.3"/>
<rect x="727.38" y="395.39" width="7.76" height="1.2" fill="#fff" fill-opacity="0.3"/>
<rect x="735.15" y="330.15" width="7.76" height="1.2" fill="#fff" fill-opacity="0.3"/>
<rect x="742.91" y="325.13" width="7.76" height="1.2" fill="#fff" fill-opacity="0.3"/>
<rect x="750.67" y="224.77" width="7.76" height="1.2" fill="#fff" fill-opacity="0.3"/>
<rect x="758.44" y="214.73" width="7.76" height="1.2" fill="#fff" fill-opacity="0.3"/>
<rect x="766.2" y="295.02" width="7.76" height="1.2" fill="#fff" fill-opacity="0.3"/>
<rect x="773.97" y="395.39" width="7.76" height="1.2" fill="#fff" fill-opacity="0.3"/>
<rect x="781.73" y="310.08" width="7.76" height="1.2" fill="#fff" fill-opacity="0.3"/>
<rect x="789.49" y="214.73" width="7.76" height="1.2" fill="#fff" fill-opacity="0.3"/>
<rect x="797.26" y="320.12" width="7.76" height="1.2" fill="#fff" fill-opacity="0.3"/>
<rect x="805.02" y="305.06" width="7.76" height="1.2" fill="#fff" fill-opacity="0.3"/>
<rect x="812.78" y="109.35" width="7.76" height="1.2" fill="#fff" fill-opacity="0.3"/>
<rect x="820.55" y="209.71" width="7.76" height="1.2" fill="#fff" fill-opacity="0.3"/>
<rect x="828.31" y="149.49" width="7.76" height="1.2" fill="#fff" fill-opacity="0.3"/>
<rect x="836.08" y="159.53" width="7.76" height="1.2" fill="#fff" fill-opacity="0.3"/>
<rect x="843.84" y="340.19" width="7.76" height="1.2" fill="#fff" fill-opacity="0.3"/>
<rect x="851.6" y="380.34" width="7.76" height="1.2" fill="#fff" fill-opacity="0.3"/>
<rect x="859.37" y="254.88" width="7.76" height="1.2" fill="#fff" fill-opacity="0.3"/>
<rect x="867.13" y="154.51" width="7.76" height="1.2" fill="#fff" fill-opacity="0.3"/>
<rect x="874.9" y="194.66" width="7.76" height="1.2" fill="#fff" fill-opacity="0.3"/>
<rect x="882.66" y="134.44" width="7.76" height="1.2" fill="#fff" fill-opacity="0.3"/>
<rect x="890.42" y="234.8" width="7.76" height="1.2" fill="#fff" fill-opacity="0.3"/>
<rect x="898.19" y="279.97" width="7.76" height="1.2" fill="#fff" fill-opacity="0.3"/>
<rect x="905.95" y="264.91" width="7.76" height="1.2" fill="#fff" fill-opacity="0.3"/>
<rect x="913.72" y="274.95" width="7.76" height="1.2" fill="#fff" fill-opacity="0.3"/>
<rect x="921.48" y="335.17" width="7.76" height="1.2" fill="#fff" fill-opacity="0.3"/>
<rect x="929.24" y="300.04" width="7.76" height="1.2" fill="#fff" fill-opacity="0.3"/>
<rect x="937.01" y="269.93" width="7.76" height="1.2" fill="#fff" fill-opacity="0.3"/>
<rect x="944.77" y="164.55" width="7.76" height="1.2" fill="#fff" fill-opacity="0.3"/>
<rect x="952.53" y="134.44" width="7.76" height="1.2" fill="#fff" fill-opacity="0.3"/>
<rect x="960.3" y="164.55" width="7.76" height="1.2" fill="#fff" fill-opacity="0.3"/>
<rect x="968.06" y="264.91" width="7.76" height="1.2" fill="#fff" fill-opacity="0.3"/>
<rect x="975.83" y="179.6" width="7.76" height="1.2" fill="#fff" fill-opacity="0.3"/>
<rect x="983.59" y="154.51" width="7.76" height="1.2" fill="#fff" fill-opacity="0.3"/>
<rect x="991.35" y="234.8" width="7.76" height="1.2" fill="#fff" fill-opacity="0.3"/>
<rect x="999.12" y="199.68" width="7.76" height="1.2" fill="#fff" fill-opacity="0.3"/>
<rect x="1006.88" y="295.02" width="7.76" height="1.2" fill="#fff" fill-opacity="0.3"/>
<rect x="1014.65" y="269.93" width="7.76" height="1.2" fill="#fff" fill-opacity="0.3"/>
<rect x="1022.41" y="259.9" width="7.76" height="1.2" fill="#fff" fill-opacity="0.3"/>
<rect x="1030.17" y="209.71" width="7.76" height="1.2" fill="#fff" fill-opacity="0.3"/>
<rect x="1037.94" y="325.13" width="7.76" height="1.2" fill="#fff" fill-opacity="0.3"/>
<rect x="1045.7" y="360.26" width="7.76" height="1.2" fill="#fff" fill-opacity="0.3"/>
<rect x="1053.47" y="370.3" width="7.76" height="1.2" fill="#fff" fill-opacity="0.3"/>
<rect x="1061.23" y="340.19" width="7.76" height="1.2" fill="#fff" fill-opacity="0.3"/>
<rect x="1068.99" y="390.37" width="7.76" height="1.2" fill="#fff" fill-opacity="0.3"/>
<rect x="1076.76" y="350.23" width="7.76" height="1.2" fill="#fff" fill-opacity="0.3"/>
<rect x="1084.52" y="340.19" width="7.76" height="1.2" fill="#fff" fill-opacity="0.3"/>
<rect x="1092.28" y="305.06" width="7.76" height="1.2" fill="#fff" fill-opacity="0.3"/>
<rect x="1100.05" y="315.1" width="7.76" height="1.2" fill="#fff" fill-opacity="0.3"/>
<rect x="1107.81" y="310.08" width="7.76" height="1.2" fill="#fff" fill-opacity="0.3"/>
<rect x="1115.58" y="350.23" width="7.76" height="1.2" fill="#fff" fill-opacity="0.3"/>
<rect x="1123.34" y="405.43" width="7.76" height="1.2" fill="#fff" fill-opacity="0.3"/>
<rect x="1131.1" y="360.26" width="7.76" height="1.2" fill="#fff" fill-opacity="0.3"/>
<rect x="1138.87" y="465.65" width="7.76" height="1.2" fill="#fff" fill-opacity="0.3"/>
<rect x="1146.63" y="465.65" width="7.76" height="1.2" fill="#fff" fill-opacity="0.3"/>
<rect x="1154.4" y="420.48" width="7.76" height="1.2" fill="#fff" fill-opacity="0.3"/>
<rect x="1162.16" y="325.13" width="7.76" height="1.2" fill="#fff" fill-opacity="0.3"/>
<rect x="1169.92" y="249.86" width="7.76" height="1.2" fill="#fff" fill-opacity="0.3"/>
<rect x="1177.69" y="370.3" width="7.76" height="1.2" fill="#fff" fill-opacity="0.3"/>
<rect x="1185.45" y="365.28" width="7.76" height="1.2" fill="#fff" fill-opacity="0.3"/>
<rect x="1193.22" y="355.24" width="7.76" height="1.2" fill="#fff" fill-opacity="0.3"/>
<rect x="1200.98" y="360.26" width="7.76" height="1.2" fill="#fff" fill-opacity="0.3"/>
<rect x="1208.74" y="259.9" width="7.76" height="1.2" fill="#fff" fill-opacity="0.3"/>
<rect x="1216.51" y="269.93" width="7.76" height="1.2" fill="#fff" fill-opacity="0.3"/>
<rect x="1224.27" y="375.32" width="7.76" height="1.2" fill="#fff" fill-opacity="0.3"/>
<rect x="1232.03" y="395.39" width="7.76" height="1.2" fill="#fff" fill-opacity="0.3"/>
<rect x="1239.8" y="410.45" width="7.76" height="1.2" fill="#fff" fill-opacity="0.3"/>
<rect x="1247.56" y="425.5" width="7.76" height="1.2" fill="#fff" fill-opacity="0.3"/>
<rect x="1255.33" y="415.46" width="7.76" height="1.2" fill="#fff" fill-opacity="0.3"/>
<rect x="1263.09" y="264.91" width="7.76" height="1.2" fill="#fff" fill-opacity="0.3"/>
<rect x="1270.85" y="345.21" width="7.76" height="1.2" fill="#fff" fill-opacity="0.3"/>
<rect x="1278.62" y="360.26" width="7.76" height="1.2" fill="#fff" fill-opacity="0.3"/>
<rect x="1286.38" y="335.17" width="7.76" height="1.2" fill="#fff" fill-opacity="0.3"/>
<rect x="1294.15" y="330.15" width="7.76" height="1.2" fill="#fff" fill-opacity="0.3"/>
<rect x="1301.91" y="264.91" width="7.76" height="1.2" fill="#fff" fill-opacity="0.3"/>
<rect x="1309.67" y="104.33" width="7.76" height="1.2" fill="#fff" fill-opacity="0.3"/>
<rect x="1317.44" y="164.55" width="7.76" height="1.2" fill="#fff" fill-opacity="0.3"/>
<rect x="1325.2" y="154.51" width="7.76" height="1.2" fill="#fff" fill-opacity="0.3"/>
<rect x="1332.97" y="184.62" width="7.76" height="1.2" fill="#fff" fill-opacity="0.3"/>
<rect x="1340.73" y="335.17" width="7.76" height="1.2" fill="#fff" fill-opacity="0.3"/>
<rect x="1348.49" y="310.08" width="7.76" height="1.2" fill="#fff" fill-opacity="0.3"/>
<rect x="1356.26" y="335.17" width="7.76" height="1.2" fill="#fff" fill-opacity="0.3"/>
<rect x="1364.02" y="440.56" width="7.76" height="1.2" fill="#fff" fill-opacity="0.3"/>
<rect x="1371.78" y="440.56" width="7.76" height="1.2" fill="#fff" fill-opacity="0.3"/>
<rect x="1379.55" y="435.54" width="7.76" height="1.2" fill="#fff" fill-opacity="0.3"/>
<rect x="1387.31" y="325.13" width="7.76" height="1.2" fill="#fff" fill-opacity="0.3"/>
<rect x="1395.08" y="345.21" width="7.76" height="1.2" fill="#fff" fill-opacity="0.3"/>
<rect x="1402.84" y="360.26" width="7.76" height="1.2" fill="#fff" fill-opacity="0.3"/>
<rect x="1410.6" y="315.1" width="7.76" height="1.2" fill="#fff" fill-opacity="0.3"/>
<rect x="1418.37" y="340.19" width="7.76" height="1.2" fill="#fff" fill-opacity="0.3"/>
<rect x="1426.13" y="325.13" width="7.76" height="1.2" fill="#fff" fill-opacity="0.3"/>
<rect x="1433.9" y="320.12" width="7.76" height="1.2" fill="#fff" fill-opacity="0.3"/>
<rect x="1441.66" y="400.41" width="7.76" height="1.2" fill="#fff" fill-opacity="0.3"/>
<rect x="1449.42" y="259.9" width="7.76" height="1.2" fill="#fff" fill-opacity="0.3"/>
<rect x="1457.19" y="179.6" width="7.76" height="1.2" fill="#fff" fill-opacity="0.3"/>
<rect x="1464.95" y="284.99" width="7.76" height="1.2" fill="#fff" fill-opacity="0.3"/>
<rect x="1472.72" y="360.26" width="7.76" height="1.2" fill="#fff" fill-opacity="0.3"/>
<rect x="1480.48" y="300.04" width="7.76" height="1.2" fill="#fff" fill-opacity="0.3"/>
<rect x="1488.24" y="330.15" width="7.76" height="1.2" fill="#fff" fill-opacity="0.3"/>
<rect x="1496.01" y="405.43" width="7.76" height="1.2" fill="#fff" fill-opacity="0.3"/>
<rect x="1503.77" y="365.28" width="7.76" height="1.2" fill="#fff" fill-opacity="0.3"/>
<rect x="1511.53" y="400.41" width="7.76" height="1.2" fill="#fff" fill-opacity="0.3"/>
<rect x="1519.3" y="410.45" width="7.76" height="1.2" fill="#fff" fill-opacity="0.3"/>
<rect x="1527.06" y="345.21" width="7.76" height="1.2" fill="#fff" fill-opacity="0.3"/>
<rect x="1534.83" y="259.9" width="7.76" height="1.2" fill="#fff" fill-opacity="0.3"/>
<rect x="1542.59" y="244.84" width="7.76" height="1.2" fill="#fff" fill-opacity="0.3"/>
<rect x="1550.35" y="234.8" width="7.76" height="1.2" fill="#fff" fill-opacity="0.3"/>
<rect x="1558.12" y="355.24" width="7.76" height="1.2" fill="#fff" fill-opacity="0.3"/>
<rect x="1565.88" y="365.28" width="7.76" height="1.2" fill="#fff" fill-opacity="0.3"/>
<rect x="1573.65" y="395.39" width="7.76" height="1.2" fill="#fff" fill-opacity="0.3"/>
<rect x="1581.41" y="430.52" width="7.76" height="1.2" fill="#fff" fill-opacity="0.3"/>
<rect x="1589.17" y="390.37" width="7.76" height="1.2" fill="#fff" fill-opacity="0.3"/>
<rect x="1596.94" y="400.41" width="7.76" height="1.2" fill="#fff" fill-opacity="0.3"/>
<rect x="1604.7" y="490.74" width="7.76" height="1.2" fill="#fff" fill-opacity="0.3"/>
<rect x="1612.47" y="510.81" width="7.76" height="1.2" fill="#fff" fill-opacity="0.3"/>
<rect x="1620.23" y="530.89" width="7.76" height="1.2" fill="#fff" fill-opacity="0.3"/>
<rect x="1627.99" y="515.83" width="7.76" height="1.2" fill="#fff" fill-opacity="0.3"/>
<rect x="1635.76" y="515.83" width="7.76" height="1.2" fill="#fff" fill-opacity="0.3"/>
<rect x="1643.52" y="525.87" width="7.76" height="1.2" fill="#fff" fill-opacity="0.3"/>
<rect x="1651.28" y="525.87" width="7.76" height="1.2" fill="#fff" fill-opacity="0.3"/>
<rect x="1659.05" y="530.89" width="7.76" height="1.2" fill="#fff" fill-opacity="0.3"/>
<rect x="1666.81" y="525.87" width="7.76" height="1.2" fill="#fff" fill-opacity="0.3"/>
<rect x="1674.58" y="530.89" width="7.76" height="1.2" fill="#fff" fill-opacity="0.3"/>
<rect x="1682.34" y="540.92" width="7.76" height="1.2" fill="#fff" fill-opacity="0.3"/>
<rect x="1690.1" y="535.9" width="7.76" height="1.2" fill="#fff" fill-opacity="0.3"/>
<rect x="1697.87" y="530.89" width="7.76" height="1.2" fill="#fff" fill-opacity="0.3"/>
<rect x="1705.63" y="591.11" width="7.76" height="1.2" fill="#fff" fill-opacity="0.3"/>
<rect x="1713.4" y="646.31" width="7.76" height="1.2" fill="#fff" fill-opacity="0.3"/>
<rect x="1721.16" y="651.33" width="7.76" height="1.2" fill="#fff" fill-opacity="0.3"/>
<rect x="1728.92" y="661.36" width="7.76" height="1.2" fill="#fff" fill-opacity="0.3"/>
<rect x="1736.69" y="651.33" width="7.76" height="1.2" fill="#fff" fill-opacity="0.3"/>
<rect x="1744.45" y="661.36" width="7.76" height="1.2" fill="#fff" fill-opacity="0.3"/>
<rect x="1752.22" y="656.35" width="7.76" height="1.2" fill="#fff" fill-opacity="0.3"/>
<rect x="1759.98" y="656.35" width="7.76" height="1.2" fill="#fff" fill-opacity="0.3"/>
<rect x="1767.74" y="661.36" width="7.76" height="1.2" fill="#fff" fill-opacity="0.3"/>
<rect x="1775.51" y="656.35" width="7.76" height="1.2" fill="#fff" fill-opacity="0.3"/>
<rect x="1783.27" y="656.35" width="7.76" height="1.2" fill="#fff" fill-opacity="0.3"/>
<rect x="1791.03" y="661.36" width="7.76" height="1.2" fill="#fff" fill-opacity="0.3"/>
<rect x="1798.8" y="656.35" width="7.76" height="1.2" fill="#fff" fill-opacity="0.3"/>
<rect x="1806.56" y="661.36" width="7.76" height="1.2" fill="#fff" fill-opacity="0.3"/>
<rect x="1814.33" y="661.36" width="7.76" height="1.2" fill="#fff" fill-opacity="0.3"/>
<rect x="1822.09" y="656.35" width="7.76" height="1.2" fill="#fff" fill-opacity="0.3"/>
<rect x="1829.85" y="656.35" width="7.76" height="1.2" fill="#fff" fill-opacity="0.3"/>
<rect x="1837.62" y="661.36" width="7.76" height="1.2" fill="#fff" fill-opacity="0.3"/>
<rect x="1845.38" y="661.36" width="7.76" height="1.2" fill="#fff" fill-opacity="0.3"/>
<rect x="1853.15" y="656.35" width="7.76" height="1.2" fill="#fff" fill-opacity="0.3"/>
<rect x="1860.91" y="661.36" width="7.76" height="1.2" fill="#fff" fill-opacity="0.3"/>
<rect x="1868.67" y="656.35" width="7.76" height="1.2" fill="#fff" fill-opacity="0.3"/>
<rect x="1876.44" y="661.36" width="7.76" height="1.2" fill="#fff" fill-opacity="0.3"/>
<rect x="1884.2" y="661.36" width="7.76" height="1.2" fill="#fff" fill-opacity="0.3"/>
<rect x="1891.97" y="661.36" width="7.76" height="1.2" fill="#fff" fill-opacity="0.3"/>
<rect x="1899.73" y="661.36" width="7.76" height="1.2" fill="#fff" fill-opacity="0.3"/>
<rect x="1907.49" y="661.36" width="7.76" height="1.2" fill="#fff" fill-opacity="0.3"/>
<rect x="1915.26" y="661.36" width="7.76" height="1.2" fill="#fff" fill-opacity="0.3"/>
<rect x="1923.02" y="661.36" width="7.76" height="1.2" fill="#fff" fill-opacity="0.3"/>
<rect x="1930.78" y="661.36" width="7.76" height="1.2" fill="#fff" fill-opacity="0.3"/>
<rect x="1938.55" y="661.36" width="7.76" height="1.2" fill="#fff" fill-opacity="0.3"/>
<rect x="1946.31" y="661.36" width="7.76" height="1.2" fill="#fff" fill-opacity="0.3"/>
<rect x="1954.08" y="666.38" width="7.76" height="1.2" fill="#fff" fill-opacity="0.3"/>
<rect x="1961.84" y="661.36" width="7.76" height="1.2" fill="#fff" fill-opacity="0.3"/>
<rect x="1969.6" y="661.36" width="7.76" height="1.2" fill="#fff" fill-opacity="0.3"/>
<rect x="1977.37" y="661.36" width="7.76" height="1.2" fill="#fff" fill-opacity="0.3"/>
<rect x="1985.13" y="661.36" width="7.76" height="1.2" fill="#fff" fill-opacity="0.3"/>
<rect x="1992.9" y="661.36" width="7.76" height="1.2" fill="#fff" fill-opacity="0.3"/>
<rect x="2000.66" y="661.36" width="7.76" height="1.2" fill="#fff" fill-opacity="0.3"/>
<rect x="2008.42" y="661.36" width="7.76" height="1.2" fill="#fff" fill-opacity="0.3"/>
<rect x="2016.19" y="661.36" width="7.76" height="1.2" fill="#fff" fill-opacity="0.3"/>
<rect x="2023.95" y="666.38" width="7.76" height="1.2" fill="#fff" fill-opacity="0.3"/>
<rect x="2031.72" y="661.36" width="7.76" height="1.2" fill="#fff" fill-opacity="0.3"/>
<rect x="2039.48" y="661.36" width="7.76" height="1.2" fill="#fff" fill-opacity="0.3"/>
<rect x="2047.24" y="661.36" width="7.76" height="1.2" fill="#fff" fill-opacity="0.3"/>
<rect x="2055.01" y="656.35" width="7.76" height="1.2" fill="#fff" fill-opacity="0.3"/>
<rect x="2062.77" y="661.36" width="7.76" height="1.2" fill="#fff" fill-opacity="0.3"/>
<rect x="2070.53" y="661.36" width="7.76" height="1.2" fill="#fff" fill-opacity="0.3"/>
<rect x="2078.3" y="661.36" width="7.76" height="1.2" fill="#fff" fill-opacity="0.3"/>
<rect x="2086.06" y="651.33" width="7.76" height="1.2" fill="#fff" fill-opacity="0.3"/>
<rect x="2093.83" y="646.31" width="7.76" height="1.2" fill="#fff" fill-opacity="0.3"/>
<rect x="2101.59" y="651.33" width="7.76" height="1.2" fill="#fff" fill-opacity="0.3"/>
<rect x="2109.35" y="651.33" width="7.76" height="1.2" fill="#fff" fill-opacity="0.3"/>
<rect x="2117.12" y="656.35" width="7.76" height="1.2" fill="#fff" fill-opacity="0.3"/>
<rect x="2124.88" y="651.33" width="7.76" height="1.2" fill="#fff" fill-opacity="0.3"/>
<rect x="2132.65" y="646.31" width="7.76" height="1.2" fill="#fff" fill-opacity="0.3"/>
<rect x="2140.41" y="651.33" width="7.76" height="1.2" fill="#fff" fill-opacity="0.3"/>
<rect x="2148.17" y="656.35" width="7.76" height="1.2" fill="#fff" fill-opacity="0.3"/>
<rect x="2155.94" y="651.33" width="7.76" height="1.2" fill="#fff" fill-opacity="0.3"/>
<rect x="2163.7" y="646.31" width="7.76" height="1.2" fill="#fff" fill-opacity="0.3"/>
<rect x="2171.47" y="651.33" width="7.76" height="1.2" fill="#fff" fill-opacity="0.3"/>
<rect x="2179.23" y="651.33" width="7.76" height="1.2" fill="#fff" fill-opacity="0.3"/>
<rect x="2186.99" y="651.33" width="7.76" height="1.2" fill="#fff" fill-opacity="0.3"/>
<rect x="2194.76" y="656.35" width="7.76" height="1.2" fill="#fff" fill-opacity="0.3"/>
<rect x="2202.52" y="641.29" width="7.76" height="1.2" fill="#fff" fill-opacity="0.3"/>
<rect x="2210.28" y="656.35" width="7.76" height="1.2" fill="#fff" fill-opacity="0.3"/>
<rect x="2218.05" y="656.35" width="7.76" height="1.2" fill="#fff" fill-opacity="0.3"/>
<rect x="2225.81" y="656.35" width="7.76" height="1.2" fill="#fff" fill-opacity="0.3"/>
<rect x="2233.58" y="646.31" width="7.76" height="1.2" fill="#fff" fill-opacity="0.3"/>
<rect x="2241.34" y="656.35" width="7.76" height="1.2" fill="#fff" fill-opacity="0.3"/>
<rect x="2249.1" y="656.35" width="7.76" height="1.2" fill="#fff" fill-opacity="0.3"/>
<rect x="2256.87" y="651.33" width="7.76" height="1.2" fill="#fff" fill-opacity="0.3"/>
<rect x="2264.63" y="651.33" width="7.76" height="1.2" fill="#fff" fill-opacity="0.3"/>
<rect x="2272.4" y="651.33" width="7.76" height="1.2" fill="#fff" fill-opacity="0.3"/>
<rect x="2280.16" y="656.35" width="7.76" height="1.2" fill="#fff" fill-opacity="0.3"/>
<rect x="2287.92" y="656.35" width="7.76" height="1.2" fill="#fff" fill-opacity="0.3"/>
<rect x="2295.69" y="651.33" width="7.76" height="1.2" fill="#fff" fill-opacity="0.3"/>
<rect x="2303.45" y="646.31" width="7.76" height="1.2" fill="#fff" fill-opacity="0.3"/>
<rect x="2311.22" y="656.35" width="7.76" height="1.2" fill="#fff" fill-opacity="0.3"/>
<rect x="2318.98" y="651.33" width="7.76" height="1.2" fill="#fff" fill-opacity="0.3"/>
<rect x="2326.74" y="656.35" width="7.76" height="1.2" fill="#fff" fill-opacity="0.3"/>
<rect x="2334.51" y="646.31" width="7.76" height="1.2" fill="#fff" fill-opacity="0.3"/>
<rect x="2342.27" y="651.33" width="7.76" height="1.2" fill="#fff" fill-opacity="0.3"/>
<rect x="2350.03" y="651.33" width="7.76" height="1.2" fill="#fff" fill-opacity="0.3"/>
<rect x="2357.8" y="651.33" width="7.76" height="1.2" fill="#fff" fill-opacity="0.3"/>
<rect x="2365.56" y="646.31" width="7.76" height="1.2" fill="#fff" fill-opacity="0.3"/>
<rect x="2373.33" y="646.31" width="7.76" height="1.2" fill="#fff" fill-opacity="0.3"/>
<rect x="2381.09" y="651.33" width="7.76" height="1.2" fill="#fff" fill-opacity="0.3"/>
<rect x="167.78" y="631.85" width="1.2" height="40.15" fill="#fff" fill-opacity="0.4"/>
<rect x="175.55" y="621.82" width="1.2" height="50.18" fill="#fff" fill-opacity="0.4"/>
<rect x="183.31" y="631.85" width="1.2" height="40.15" fill="#fff" fill-opacity="0.4"/>
<rect x="191.07" y="631.85" width="1.2" height="40.15" fill="#fff" fill-opacity="0.4"/>
<rect x="198.84" y="626.84" width="1.2" height="45.16" fill="#fff" fill-opacity="0.4"/>
<rect x="206.6" y="621.82" width="1.2" height="50.18" fill="#fff" fill-opacity="0.4"/>
<rect x="214.37" y="626.84" width="1.2" height="45.16" fill="#fff" fill-opacity="0.4"/>
<rect x="222.13" y="626.84" width="1.2" height="45.16" fill="#fff" fill-opacity="0.4"/>
<rect x="229.89" y="626.84" width="1.2" height="45.16" fill="#fff" fill-opacity="0.4"/>
<rect x="237.66" y="621.82" width="1.2" height="50.18" fill="#fff" fill-opacity="0.4"/>
<rect x="245.42" y="626.84" width="1.2" height="45.16" fill="#fff" fill-opacity="0.4"/>
<rect x="253.18" y="626.84" width="1.2" height="45.16" fill="#fff" fill-opacity="0.4"/>
<rect x="260.95" y="626.84" width="1.2" height="45.16" fill="#fff" fill-opacity="0.4"/>
<rect x="268.71" y="616.8" width="1.2" height="55.2" fill="#fff" fill-opacity="0.4"/>
<rect x="276.48" y="626.84" width="1.2" height="45.16" fill="#fff" fill-opacity="0.4"/>
<rect x="284.24" y="626.84" width="1.2" height="45.16" fill="#fff" fill-opacity="0.4"/>
<rect x="292" y="626.84" width="1.2" height="45.16" fill="#fff" fill-opacity="0.4"/>
<rect x="299.77" y="621.82" width="1.2" height="50.18" fill="#fff" fill-opacity="0.4"/>
<rect x="307.53" y="626.84" width="1.2" height="45.16" fill="#fff" fill-opacity="0.4"/>
<rect x="315.3" y="626.84" width="1.2" height="45.16" fill="#fff" fill-opacity="0.4"/>
<rect x="323.06" y="621.82" width="1.2" height="50.18" fill="#fff" fill-opacity="0.4"/>
<rect x="330.82" y="621.82" width="1.2" height="50.18" fill="#fff" fill-opacity="0.4"/>
<rect x="338.59" y="621.82" width="1.2" height="50.18" fill="#fff" fill-opacity="0.4"/>
<rect x="346.35" y="626.84" width="1.2" height="45.16" fill="#fff" fill-opacity="0.4"/>
<rect x="354.12" y="626.84" width="1.2" height="45.16" fill="#fff" fill-opacity="0.4"/>
<rect x="361.88" y="626.84" width="1.2" height="45.16" fill="#fff" fill-opacity="0.4"/>
<rect x="369.64" y="616.8" width="1.2" height="55.2" fill="#fff" fill-opacity="0.4"/>
<rect x="377.41" y="621.82" width="1.2" height="50.18" fill="#fff" fill-opacity="0.4"/>
<rect x="385.17" y="626.84" width="1.2" height="45.16" fill="#fff" fill-opacity="0.4"/>
<rect x="392.93" y="626.84" width="1.2" height="45.16" fill="#fff" fill-opacity="0.4"/>
<rect x="400.7" y="616.8" width="1.2" height="55.2" fill="#fff" fill-opacity="0.4"/>
<rect x="408.46" y="616.8" width="1.2" height="55.2" fill="#fff" fill-opacity="0.4"/>
<rect x="416.23" y="621.82" width="1.2" height="50.18" fill="#fff" fill-opacity="0.4"/>
<rect x="423.99" y="621.82" width="1.2" height="50.18" fill="#fff" fill-opacity="0.4"/>
<rect x="431.75" y="621.82" width="1.2" height="50.18" fill="#fff" fill-opacity="0.4"/>
<rect x="439.52" y="611.78" width="1.2" height="60.22" fill="#fff" fill-opacity="0.4"/>
<rect x="447.28" y="621.82" width="1.2" height="50.18" fill="#fff" fill-opacity="0.4"/>
<rect x="455.05" y="621.82" width="1.2" height="50.18" fill="#fff" fill-opacity="0.4"/>
<rect x="462.81" y="621.82" width="1.2" height="50.18" fill="#fff" fill-opacity="0.4"/>
<rect x="470.57" y="621.82" width="1.2" height="50.18" fill="#fff" fill-opacity="0.4"/>
<rect x="478.34" y="611.78" width="1.2" height="60.22" fill="#fff" fill-opacity="0.4"/>
<rect x="486.1" y="611.78" width="1.2" height="60.22" fill="#fff" fill-opacity="0.4"/>
<rect x="493.87" y="621.82" width="1.2" height="50.18" fill="#fff" fill-opacity="0.4"/>
<rect x="501.63" y="621.82" width="1.2" height="50.18" fill="#fff" fill-opacity="0.4"/>
<rect x="509.39" y="621.82" width="1.2" height="50.18" fill="#fff" fill-opacity="0.4"/>
<rect x="517.16" y="611.78" width="1.2" height="60.22" fill="#fff" fill-opacity="0.4"/>
<rect x="524.92" y="611.78" width="1.2" height="60.22" fill="#fff" fill-opacity="0.4"/>
<rect x="532.68" y="616.8" width="1.2" height="55.2" fill="#fff" fill-opacity="0.4"/>
<rect x="540.45" y="621.82" width="1.2" height="50.18" fill="#fff" fill-opacity="0.4"/>
<rect x="548.21" y="621.82" width="1.2" height="50.18" fill="#fff" fill-opacity="0.4"/>
<rect x="555.98" y="611.78" width="1.2" height="60.22" fill="#fff" fill-opacity="0.4"/>
<rect x="563.74" y="606.76" width="1.2" height="65.24" fill="#fff" fill-opacity="0.4"/>
<rect x="571.5" y="611.78" width="1.2" height="60.22" fill="#fff" fill-opacity="0.4"/>
<rect x="579.27" y="621.82" width="1.2" height="50.18" fill="#fff" fill-opacity="0.4"/>
<rect x="587.03" y="621.82" width="1.2" height="50.18" fill="#fff" fill-opacity="0.4"/>
<rect x="594.8" y="611.78" width="1.2" height="60.22" fill="#fff" fill-opacity="0.4"/>
<rect x="602.56" y="606.76" width="1.2" height="65.24" fill="#fff" fill-opacity="0.4"/>
<rect x="610.32" y="606.76" width="1.2" height="65.24" fill="#fff" fill-opacity="0.4"/>
<rect x="618.09" y="616.8" width="1.2" height="55.2" fill="#fff" fill-opacity="0.4"/>
<rect x="625.85" y="616.8" width="1.2" height="55.2" fill="#fff" fill-opacity="0.4"/>
<rect x="633.62" y="616.8" width="1.2" height="55.2" fill="#fff" fill-opacity="0.4"/>
<rect x="641.38" y="611.78" width="1.2" height="60.22" fill="#fff" fill-opacity="0.4"/>
<rect x="649.14" y="606.76" width="1.2" height="65.24" fill="#fff" fill-opacity="0.4"/>
<rect x="656.91" y="606.76" width="1.2" height="65.24" fill="#fff" fill-opacity="0.4"/>
<rect x="664.67" y="606.76" width="1.2" height="65.24" fill="#fff" fill-opacity="0.4"/>
<rect x="672.43" y="616.8" width="1.2" height="55.2" fill="#fff" fill-opacity="0.4"/>
<rect x="680.2" y="616.8" width="1.2" height="55.2" fill="#fff" fill-opacity="0.4"/>
<rect x="687.96" y="611.78" width="1.2" height="60.22" fill="#fff" fill-opacity="0.4"/>
<rect x="695.73" y="451.19" width="1.2" height="220.81" fill="#fff" fill-opacity="0.4"/>
<rect x="703.49" y="461.23" width="1.2" height="210.77" fill="#fff" fill-opacity="0.4"/>
<rect x="711.25" y="461.23" width="1.2" height="210.77" fill="#fff" fill-opacity="0.4"/>
<rect x="719.02" y="461.23" width="1.2" height="210.77" fill="#fff" fill-opacity="0.4"/>
<rect x="726.78" y="461.23" width="1.2" height="210.77" fill="#fff" fill-opacity="0.4"/>
<rect x="734.55" y="395.99" width="1.2" height="276.01" fill="#fff" fill-opacity="0.4"/>
<rect x="742.31" y="330.75" width="1.2" height="341.25" fill="#fff" fill-opacity="0.4"/>
<rect x="750.07" y="325.74" width="1.2" height="346.26" fill="#fff" fill-opacity="0.4"/>
<rect x="757.84" y="225.37" width="1.2" height="446.63" fill="#fff" fill-opacity="0.4"/>
<rect x="765.6" y="295.62" width="1.2" height="376.38" fill="#fff" fill-opacity="0.4"/>
<rect x="773.37" y="395.99" width="1.2" height="276.01" fill="#fff" fill-opacity="0.4"/>
<rect x="781.13" y="395.99" width="1.2" height="276.01" fill="#fff" fill-opacity="0.4"/>
<rect x="788.89" y="310.68" width="1.2" height="361.32" fill="#fff" fill-opacity="0.4"/>
<rect x="796.66" y="320.72" width="1.2" height="351.28" fill="#fff" fill-opacity="0.4"/>
<rect x="804.42" y="320.72" width="1.2" height="351.28" fill="#fff" fill-opacity="0.4"/>
<rect x="812.18" y="305.66" width="1.2" height="366.34" fill="#fff" fill-opacity="0.4"/>
<rect x="819.95" y="210.31" width="1.2" height="461.69" fill="#fff" fill-opacity="0.4"/>
<rect x="827.71" y="210.31" width="1.2" height="461.69" fill="#fff" fill-opacity="0.4"/>
<rect x="835.48" y="160.13" width="1.2" height="511.87" fill="#fff" fill-opacity="0.4"/>
<rect x="843.24" y="340.79" width="1.2" height="331.21" fill="#fff" fill-opacity="0.4"/>
<rect x="851" y="380.94" width="1.2" height="291.06" fill="#fff" fill-opacity="0.4"/>
<rect x="858.77" y="380.94" width="1.2" height="291.06" fill="#fff" fill-opacity="0.4"/>
<rect x="866.53" y="255.48" width="1.2" height="416.52" fill="#fff" fill-opacity="0.4"/>
<rect x="874.3" y="195.26" width="1.2" height="476.74" fill="#fff" fill-opacity="0.4"/>
<rect x="882.06" y="195.26" width="1.2" height="476.74" fill="#fff" fill-opacity="0.4"/>
<rect x="889.82" y="235.4" width="1.2" height="436.6" fill="#fff" fill-opacity="0.4"/>
<rect x="897.59" y="280.57" width="1.2" height="391.43" fill="#fff" fill-opacity="0.4"/>
<rect x="905.35" y="280.57" width="1.2" height="391.43" fill="#fff" fill-opacity="0.4"/>
<rect x="913.12" y="275.55" width="1.2" height="396.45" fill="#fff" fill-opacity="0.4"/>
<rect x="920.88" y="335.77" width="1.2" height="336.23" fill="#fff" fill-opacity="0.4"/>
<rect x="928.64" y="335.77" width="1.2" height="336.23" fill="#fff" fill-opacity="0.4"/>
<rect x="936.41" y="300.64" width="1.2" height="371.36" fill="#fff" fill-opacity="0.4"/>
<rect x="944.17" y="270.53" width="1.2" height="401.47" fill="#fff" fill-opacity="0.4"/>
<rect x="951.93" y="165.15" width="1.2" height="506.85" fill="#fff" fill-opacity="0.4"/>
<rect x="959.7" y="165.15" width="1.2" height="506.85" fill="#fff" fill-opacity="0.4"/>
<rect x="967.46" y="265.51" width="1.2" height="406.49" fill="#fff" fill-opacity="0.4"/>
<rect x="975.23" y="265.51" width="1.2" height="406.49" fill="#fff" fill-opacity="0.4"/>
<rect x="982.99" y="180.2" width="1.2" height="491.8" fill="#fff" fill-opacity="0.4"/>
<rect x="990.75" y="235.4" width="1.2" height="436.6" fill="#fff" fill-opacity="0.4"/>
<rect x="998.52" y="235.4" width="1.2" height="436.6" fill="#fff" fill-opacity="0.4"/>
<rect x="1006.28" y="295.62" width="1.2" height="376.38" fill="#fff" fill-opacity="0.4"/>
<rect x="1014.05" y="295.62" width="1.2" height="376.38" fill="#fff" fill-opacity="0.4"/>
<rect x="1021.81" y="270.53" width="1.2" height="401.47" fill="#fff" fill-opacity="0.4"/>
<rect x="1029.57" y="260.5" width="1.2" height="411.5" fill="#fff" fill-opacity="0.4"/>
<rect x="1037.34" y="325.74" width="1.2" height="346.26" fill="#fff" fill-opacity="0.4"/>
<rect x="1045.1" y="360.86" width="1.2" height="311.14" fill="#fff" fill-opacity="0.4"/>
<rect x="1052.87" y="370.9" width="1.2" height="301.1" fill="#fff" fill-opacity="0.4"/>
<rect x="1060.63" y="370.9" width="1.2" height="301.1" fill="#fff" fill-opacity="0.4"/>
<rect x="1068.39" y="390.97" width="1.2" height="281.03" fill="#fff" fill-opacity="0.4"/>
<rect x="1076.16" y="390.97" width="1.2" height="281.03" fill="#fff" fill-opacity="0.4"/>
<rect x="1083.92" y="350.83" width="1.2" height="321.17" fill="#fff" fill-opacity="0.4"/>
<rect x="1091.68" y="340.79" width="1.2" height="331.21" fill="#fff" fill-opacity="0.4"/>
<rect x="1099.45" y="315.7" width="1.2" height="356.3" fill="#fff" fill-opacity="0.4"/>
<rect x="1107.21" y="315.7" width="1.2" height="356.3" fill="#fff" fill-opacity="0.4"/>
<rect x="1114.98" y="350.83" width="1.2" height="321.17" fill="#fff" fill-opacity="0.4"/>
<rect x="1122.74" y="406.03" width="1.2" height="265.97" fill="#fff" fill-opacity="0.4"/>
<rect x="1130.5" y="406.03" width="1.2" height="265.97" fill="#fff" fill-opacity="0.4"/>
<rect x="1138.27" y="466.25" width="1.2" height="205.75" fill="#fff" fill-opacity="0.4"/>
<rect x="1146.03" y="466.25" width="1.2" height="205.75" fill="#fff" fill-opacity="0.4"/>
<rect x="1153.8" y="466.25" width="1.2" height="205.75" fill="#fff" fill-opacity="0.4"/>
<rect x="1161.56" y="421.08" width="1.2" height="250.92" fill="#fff" fill-opacity="0.4"/>
<rect x="1169.32" y="325.74" width="1.2" height="346.26" fill="#fff" fill-opacity="0.4"/>
<rect x="1177.09" y="370.9" width="1.2" height="301.1" fill="#fff" fill-opacity="0.4"/>
<rect x="1184.85" y="370.9" width="1.2" height="301.1" fill="#fff" fill-opacity="0.4"/>
<rect x="1192.62" y="365.88" width="1.2" height="306.12" fill="#fff" fill-opacity="0.4"/>
<rect x="1200.38" y="360.86" width="1.2" height="311.14" fill="#fff" fill-opacity="0.4"/>
<rect x="1208.14" y="360.86" width="1.2" height="311.14" fill="#fff" fill-opacity="0.4"/>
<rect x="1215.91" y="270.53" width="1.2" height="401.47" fill="#fff" fill-opacity="0.4"/>
<rect x="1223.67" y="375.92" width="1.2" height="296.08" fill="#fff" fill-opacity="0.4"/>
<rect x="1231.43" y="395.99" width="1.2" height="276.01" fill="#fff" fill-opacity="0.4"/>
<rect x="1239.2" y="411.05" width="1.2" height="260.95" fill="#fff" fill-opacity="0.4"/>
<rect x="1246.96" y="426.1" width="1.2" height="245.9" fill="#fff" fill-opacity="0.4"/>
<rect x="1254.73" y="426.1" width="1.2" height="245.9" fill="#fff" fill-opacity="0.4"/>
<rect x="1262.49" y="416.06" width="1.2" height="255.94" fill="#fff" fill-opacity="0.4"/>
<rect x="1270.25" y="345.81" width="1.2" height="326.19" fill="#fff" fill-opacity="0.4"/>
<rect x="1278.02" y="360.86" width="1.2" height="311.14" fill="#fff" fill-opacity="0.4"/>
<rect x="1285.78" y="360.86" width="1.2" height="311.14" fill="#fff" fill-opacity="0.4"/>
<rect x="1293.55" y="335.77" width="1.2" height="336.23" fill="#fff" fill-opacity="0.4"/>
<rect x="1301.31" y="330.75" width="1.2" height="341.25" fill="#fff" fill-opacity="0.4"/>
<rect x="1309.07" y="265.51" width="1.2" height="406.49" fill="#fff" fill-opacity="0.4"/>
<rect x="1316.84" y="165.15" width="1.2" height="506.85" fill="#fff" fill-opacity="0.4"/>
<rect x="1324.6" y="165.15" width="1.2" height="506.85" fill="#fff" fill-opacity="0.4"/>
<rect x="1332.37" y="185.22" width="1.2" height="486.78" fill="#fff" fill-opacity="0.4"/>
<rect x="1340.13" y="335.77" width="1.2" height="336.23" fill="#fff" fill-opacity="0.4"/>
<rect x="1347.89" y="335.77" width="1.2" height="336.23" fill="#fff" fill-opacity="0.4"/>
<rect x="1355.66" y="335.77" width="1.2" height="336.23" fill="#fff" fill-opacity="0.4"/>
<rect x="1363.42" y="441.16" width="1.2" height="230.84" fill="#fff" fill-opacity="0.4"/>
<rect x="1371.18" y="441.16" width="1.2" height="230.84" fill="#fff" fill-opacity="0.4"/>
<rect x="1378.95" y="441.16" width="1.2" height="230.84" fill="#fff" fill-opacity="0.4"/>
<rect x="1386.71" y="436.14" width="1.2" height="235.86" fill="#fff" fill-opacity="0.4"/>
<rect x="1394.48" y="345.81" width="1.2" height="326.19" fill="#fff" fill-opacity="0.4"/>
<rect x="1402.24" y="360.86" width="1.2" height="311.14" fill="#fff" fill-opacity="0.4"/>
<rect x="1410" y="360.86" width="1.2" height="311.14" fill="#fff" fill-opacity="0.4"/>
<rect x="1417.77" y="340.79" width="1.2" height="331.21" fill="#fff" fill-opacity="0.4"/>
<rect x="1425.53" y="340.79" width="1.2" height="331.21" fill="#fff" fill-opacity="0.4"/>
<rect x="1433.3" y="325.74" width="1.2" height="346.26" fill="#fff" fill-opacity="0.4"/>
<rect x="1441.06" y="401.01" width="1.2" height="270.99" fill="#fff" fill-opacity="0.4"/>
<rect x="1448.82" y="401.01" width="1.2" height="270.99" fill="#fff" fill-opacity="0.4"/>
<rect x="1456.59" y="260.5" width="1.2" height="411.5" fill="#fff" fill-opacity="0.4"/>
<rect x="1464.35" y="285.59" width="1.2" height="386.41" fill="#fff" fill-opacity="0.4"/>
<rect x="1472.12" y="360.86" width="1.2" height="311.14" fill="#fff" fill-opacity="0.4"/>
<rect x="1479.88" y="360.86" width="1.2" height="311.14" fill="#fff" fill-opacity="0.4"/>
<rect x="1487.64" y="330.75" width="1.2" height="341.25" fill="#fff" fill-opacity="0.4"/>
<rect x="1495.41" y="406.03" width="1.2" height="265.97" fill="#fff" fill-opacity="0.4"/>
<rect x="1503.17" y="406.03" width="1.2" height="265.97" fill="#fff" fill-opacity="0.4"/>
<rect x="1510.93" y="401.01" width="1.2" height="270.99" fill="#fff" fill-opacity="0.4"/>
<rect x="1518.7" y="411.05" width="1.2" height="260.95" fill="#fff" fill-opacity="0.4"/>
<rect x="1526.46" y="411.05" width="1.2" height="260.95" fill="#fff" fill-opacity="0.4"/>
<rect x="1534.23" y="345.81" width="1.2" height="326.19" fill="#fff" fill-opacity="0.4"/>
<rect x="1541.99" y="260.5" width="1.2" height="411.5" fill="#fff" fill-opacity="0.4"/>
<rect x="1549.75" y="245.44" width="1.2" height="426.56" fill="#fff" fill-opacity="0.4"/>
<rect x="1557.52" y="355.84" width="1.2" height="316.16" fill="#fff" fill-opacity="0.4"/>
<rect x="1565.28" y="365.88" width="1.2" height="306.12" fill="#fff" fill-opacity="0.4"/>
<rect x="1573.05" y="395.99" width="1.2" height="276.01" fill="#fff" fill-opacity="0.4"/>
<rect x="1580.81" y="431.12" width="1.2" height="240.88" fill="#fff" fill-opacity="0.4"/>
<rect x="1588.57" y="431.12" width="1.2" height="240.88" fill="#fff" fill-opacity="0.4"/>
<rect x="1596.34" y="401.01" width="1.2" height="270.99" fill="#fff" fill-opacity="0.4"/>
<rect x="1604.1" y="491.34" width="1.2" height="180.66" fill="#fff" fill-opacity="0.4"/>
<rect x="1611.87" y="511.41" width="1.2" height="160.59" fill="#fff" fill-opacity="0.4"/>
<rect x="1619.63" y="531.49" width="1.2" height="140.51" fill="#fff" fill-opacity="0.4"/>
<rect x="1627.39" y="531.49" width="1.2" height="140.51" fill="#fff" fill-opacity="0.4"/>
<rect x="1635.16" y="516.43" width="1.2" height="155.57" fill="#fff" fill-opacity="0.4"/>
<rect x="1642.92" y="526.47" width="1.2" height="145.53" fill="#fff" fill-opacity="0.4"/>
<rect x="1650.68" y="526.47" width="1.2" height="145.53" fill="#fff" fill-opacity="0.4"/>
<rect x="1658.45" y="531.49" width="1.2" height="140.51" fill="#fff" fill-opacity="0.4"/>
<rect x="1666.21" y="531.49" width="1.2" height="140.51" fill="#fff" fill-opacity="0.4"/>
<rect x="1673.98" y="531.49" width="1.2" height="140.51" fill="#fff" fill-opacity="0.4"/>
<rect x="1681.74" y="541.52" width="1.2" height="130.48" fill="#fff" fill-opacity="0.4"/>
<rect x="1689.5" y="541.52" width="1.2" height="130.48" fill="#fff" fill-opacity="0.4"/>
<rect x="1697.27" y="536.5" width="1.2" height="135.5" fill="#fff" fill-opacity="0.4"/>
<rect x="1705.03" y="591.71" width="1.2" height="80.29" fill="#fff" fill-opacity="0.4"/>
<rect x="1712.8" y="646.91" width="1.2" height="25.09" fill="#fff" fill-opacity="0.4"/>
<rect x="1720.56" y="651.93" width="1.2" height="20.07" fill="#fff" fill-opacity="0.4"/>
<rect x="1728.32" y="661.96" width="1.2" height="10.04" fill="#fff" fill-opacity="0.4"/>
<rect x="1736.09" y="661.96" width="1.2" height="10.04" fill="#fff" fill-opacity="0.4"/>
<rect x="1743.85" y="661.96" width="1.2" height="10.04" fill="#fff" fill-opacity="0.4"/>
<rect x="1751.62" y="661.96" width="1.2" height="10.04" fill="#fff" fill-opacity="0.4"/>
<rect x="1759.38" y="656.95" width="1.2" height="15.05" fill="#fff" fill-opacity="0.4"/>
<rect x="1767.14" y="661.96" width="1.2" height="10.04" fill="#fff" fill-opacity="0.4"/>
<rect x="1774.91" y="661.96" width="1.2" height="10.04" fill="#fff" fill-opacity="0.4"/>
<rect x="1782.67" y="656.95" width="1.2" height="15.05" fill="#fff" fill-opacity="0.4"/>
<rect x="1790.43" y="661.96" width="1.2" height="10.04" fill="#fff" fill-opacity="0.4"/>
<rect x="1798.2" y="661.96" width="1.2" height="10.04" fill="#fff" fill-opacity="0.4"/>
<rect x="1805.96" y="661.96" width="1.2" height="10.04" fill="#fff" fill-opacity="0.4"/>
<rect x="1813.73" y="661.96" width="1.2" height="10.04" fill="#fff" fill-opacity="0.4"/>
<rect x="1821.49" y="661.96" width="1.2" height="10.04" fill="#fff" fill-opacity="0.4"/>
<rect x="1829.25" y="656.95" width="1.2" height="15.05" fill="#fff" fill-opacity="0.4"/>
<rect x="1837.02" y="661.96" width="1.2" height="10.04" fill="#fff" fill-opacity="0.4"/>
<rect x="1844.78" y="661.96" width="1.2" height="10.04" fill="#fff" fill-opacity="0.4"/>
<rect x="1852.55" y="661.96" width="1.2" height="10.04" fill="#fff" fill-opacity="0.4"/>
<rect x="1860.31" y="661.96" width="1.2" height="10.04" fill="#fff" fill-opacity="0.4"/>
<rect x="1868.07" y="661.96" width="1.2" height="10.04" fill="#fff" fill-opacity="0.4"/>
<rect x="1875.84" y="661.96" width="1.2" height="10.04" fill="#fff" fill-opacity="0.4"/>
<rect x="1883.6" y="661.96" width="1.2" height="10.04" fill="#fff" fill-opacity="0.4"/>
<rect x="1891.37" y="661.96" width="1.2" height="10.04" fill="#fff" fill-opacity="0.4"/>
<rect x="1899.13" y="661.96" width="1.2" height="10.04" fill="#fff" fill-opacity="0.4"/>
<rect x="1906.89" y="661.96" width="1.2" height="10.04" fill="#fff" fill-opacity="0.4"/>
<rect x="1914.66" y="661.96" width="1.2" height="10.04" fill="#fff" fill-opacity="0.4"/>
<rect x="1922.42" y="661.96" width="1.2" height="10.04" fill="#fff" fill-opacity="0.4"/>
<rect x="1930.18" y="661.96" width="1.2" height="10.04" fill="#fff" fill-opacity="0.4"/>
<rect x="1937.95" y="661.96" width="1.2" height="10.04" fill="#fff" fill-opacity="0.4"/>
<rect x="1945.71" y="661.96" width="1.2" height="10.04" fill="#fff" fill-opacity="0.4"/>
<rect x="1953.48" y="666.98" width="1.2" height="5.02" fill="#fff" fill-opacity="0.4"/>
<rect x="1961.24" y="666.98" width="1.2" height="5.02" fill="#fff" fill-opacity="0.4"/>
<rect x="1969" y="661.96" width="1.2" height="10.04" fill="#fff" fill-opacity="0.4"/>
<rect x="1976.77" y="661.96" width="1.2" height="10.04" fill="#fff" fill-opacity="0.4"/>
<rect x="1984.53" y="661.96" width="1.2" height="10.04" fill="#fff" fill-opacity="0.4"/>
<rect x="1992.3" y="661.96" width="1.2" height="10.04" fill="#fff" fill-opacity="0.4"/>
<rect x="2000.06" y="661.96" width="1.2" height="10.04" fill="#fff" fill-opacity="0.4"/>
<rect x="2007.82" y="661.96" width="1.2" height="10.04" fill="#fff" fill-opacity="0.4"/>
<rect x="2015.59" y="661.96" width="1.2" height="10.04" fill="#fff" fill-opacity="0.4"/>
<rect x="2023.35" y="666.98" width="1.2" height="5.02" fill="#fff" fill-opacity="0.4"/>
<rect x="2031.12" y="666.98" width="1.2" height="5.02" fill="#fff" fill-opacity="0.4"/>
<rect x="2038.88" y="661.96" width="1.2" height="10.04" fill="#fff" fill-opacity="0.4"/>
<rect x="2046.64" y="661.96" width="1.2" height="10.04" fill="#fff" fill-opacity="0.4"/>
<rect x="2054.41" y="661.96" width="1.2" height="10.04" fill="#fff" fill-opacity="0.4"/>
<rect x="2062.17" y="661.96" width="1.2" height="10.04" fill="#fff" fill-opacity="0.4"/>
<rect x="2069.93" y="661.96" width="1.2" height="10.04" fill="#fff" fill-opacity="0.4"/>
<rect x="2077.7" y="661.96" width="1.2" height="10.04" fill="#fff" fill-opacity="0.4"/>
<rect x="2085.46" y="661.96" width="1.2" height="10.04" fill="#fff" fill-opacity="0.4"/>
<rect x="2093.23" y="651.93" width="1.2" height="20.07" fill="#fff" fill-opacity="0.4"/>
<rect x="2100.99" y="651.93" width="1.2" height="20.07" fill="#fff" fill-opacity="0.4"/>
<rect x="2108.75" y="651.93" width="1.2" height="20.07" fill="#fff" fill-opacity="0.4"/>
<rect x="2116.52" y="656.95" width="1.2" height="15.05" fill="#fff" fill-opacity="0.4"/>
<rect x="2124.28" y="656.95" width="1.2" height="15.05" fill="#fff" fill-opacity="0.4"/>
<rect x="2132.05" y="651.93" width="1.2" height="20.07" fill="#fff" fill-opacity="0.4"/>
<rect x="2139.81" y="651.93" width="1.2" height="20.07" fill="#fff" fill-opacity="0.4"/>
<rect x="2147.57" y="656.95" width="1.2" height="15.05" fill="#fff" fill-opacity="0.4"/>
<rect x="2155.34" y="656.95" width="1.2" height="15.05" fill="#fff" fill-opacity="0.4"/>
<rect x="2163.1" y="651.93" width="1.2" height="20.07" fill="#fff" fill-opacity="0.4"/>
<rect x="2170.87" y="651.93" width="1.2" height="20.07" fill="#fff" fill-opacity="0.4"/>
<rect x="2178.63" y="651.93" width="1.2" height="20.07" fill="#fff" fill-opacity="0.4"/>
<rect x="2186.39" y="651.93" width="1.2" height="20.07" fill="#fff" fill-opacity="0.4"/>
<rect x="2194.16" y="656.95" width="1.2" height="15.05" fill="#fff" fill-opacity="0.4"/>
<rect x="2201.92" y="656.95" width="1.2" height="15.05" fill="#fff" fill-opacity="0.4"/>
<rect x="2209.68" y="656.95" width="1.2" height="15.05" fill="#fff" fill-opacity="0.4"/>
<rect x="2217.45" y="656.95" width="1.2" height="15.05" fill="#fff" fill-opacity="0.4"/>
<rect x="2225.21" y="656.95" width="1.2" height="15.05" fill="#fff" fill-opacity="0.4"/>
<rect x="2232.98" y="656.95" width="1.2" height="15.05" fill="#fff" fill-opacity="0.4"/>
<rect x="2240.74" y="656.95" width="1.2" height="15.05" fill="#fff" fill-opacity="0.4"/>
<rect x="2248.5" y="656.95" width="1.2" height="15.05" fill="#fff" fill-opacity="0.4"/>
<rect x="2256.27" y="656.95" width="1.2" height="15.05" fill="#fff" fill-opacity="0.4"/>
<rect x="2264.03" y="651.93" width="1.2" height="20.07" fill="#fff" fill-opacity="0.4"/>
<rect x="2271.8" y="651.93" width="1.2" height="20.07" fill="#fff" fill-opacity="0.4"/>
<rect x="2279.56" y="656.95" width="1.2" height="15.05" fill="#fff" fill-opacity="0.4"/>
<rect x="2287.32" y="656.95" width="1.2" height="15.05" fill="#fff" fill-opacity="0.4"/>
<rect x="2295.09" y="656.95" width="1.2" height="15.05" fill="#fff" fill-opacity="0.4"/>
<rect x="2302.85" y="651.93" width="1.2" height="20.07" fill="#fff" fill-opacity="0.4"/>
<rect x="2310.62" y="656.95" width="1.2" height="15.05" fill="#fff" fill-opacity="0.4"/>
<rect x="2318.38" y="656.95" width="1.2" height="15.05" fill="#fff" fill-opacity="0.4"/>
<rect x="2326.14" y="656.95" width="1.2" height="15.05" fill="#fff" fill-opacity="0.4"/>
<rect x="2333.91" y="656.95" width="1.2" height="15.05" fill="#fff" fill-opacity="0.4"/>
<rect x="2341.67" y="651.93" width="1.2" height="20.07" fill="#fff" fill-opacity="0.4"/>
<rect x="2349.43" y="651.93" width="1.2" height="20.07" fill="#fff" fill-opacity="0.4"/>
<rect x="2357.2" y="651.93" width="1.2" height="20.07" fill="#fff" fill-opacity="0.4"/>
<rect x="2364.96" y="651.93" width="1.2" height="20.07" fill="#fff" fill-opacity="0.4"/>
<rect x="2372.73" y="646.91" width="1.2" height="25.09" fill="#fff" fill-opacity="0.4"/>
<rect x="2380.49" y="651.93" width="1.2" height="20.07" fill="#fff" fill-opacity="0.4"/>
<defs><linearGradient id="shb" x1="0" y1="0" x2="0" y2="1"><stop offset="0" stop-color="#000" stop-opacity="0.34"/><stop offset="0.35" stop-color="#000" stop-opacity="0.16"/><stop offset="1" stop-color="#000" stop-opacity="0"/></linearGradient><linearGradient id="shr" x1="0" y1="0" x2="1" y2="0"><stop offset="0" stop-color="#000" stop-opacity="0.31"/><stop offset="0.3" stop-color="#000" stop-opacity="0.14"/><stop offset="1" stop-color="#000" stop-opacity="0"/></linearGradient></defs>
<rect x="165.5" y="673.5" width="2236" height="9" fill="url(#shb)"/>
<rect x="2400.5" y="71.8" width="11" height="603.2" fill="url(#shr)"/>
<line x1="163.5" y1="69.8" x2="163.5" y2="672.0" stroke="#555" stroke-width="1.2"/>
<line x1="164.5" y1="673.2" x2="2400.5" y2="673.2" stroke="#707070" stroke-width="1.5"/>
<line x1="153" y1="672.5" x2="163" y2="672.5" stroke="#999"/>
<text x="132.02" y="677.80" font-size="17.90" fill="#333" textLength="11.05" lengthAdjust="spacingAndGlyphs" xml:space="preserve" stroke="#333" stroke-width="0.45">0</text>
<line x1="153" y1="571.5" x2="163" y2="571.5" stroke="#999"/>
<text x="120.37" y="576.80" font-size="17.90" fill="#333" textLength="22.73" lengthAdjust="spacingAndGlyphs" xml:space="preserve" stroke="#333" stroke-width="0.45">20</text>
<line x1="153" y1="471.5" x2="163" y2="471.5" stroke="#999"/>
<text x="120.94" y="476.80" font-size="17.90" fill="#333" textLength="22.13" lengthAdjust="spacingAndGlyphs" xml:space="preserve" stroke="#333" stroke-width="0.45">40</text>
<line x1="153" y1="370.5" x2="163" y2="370.5" stroke="#999"/>
<text x="120.36" y="375.80" font-size="17.90" fill="#333" textLength="22.74" lengthAdjust="spacingAndGlyphs" xml:space="preserve" stroke="#333" stroke-width="0.45">60</text>
<line x1="153" y1="270.5" x2="163" y2="270.5" stroke="#999"/>
<text x="120.52" y="275.80" font-size="17.90" fill="#333" textLength="22.57" lengthAdjust="spacingAndGlyphs" xml:space="preserve" stroke="#333" stroke-width="0.45">80</text>
<line x1="153" y1="170.5" x2="163" y2="170.5" stroke="#999"/>
<text x="108.42" y="175.80" font-size="17.90" fill="#333" textLength="34.70" lengthAdjust="spacingAndGlyphs" xml:space="preserve" stroke="#333" stroke-width="0.45">100</text>
<line x1="153" y1="69.5" x2="163" y2="69.5" stroke="#999"/>
<text x="108.42" y="74.80" font-size="17.90" fill="#333" textLength="34.70" lengthAdjust="spacingAndGlyphs" xml:space="preserve" stroke="#333" stroke-width="0.45">120</text>
<line x1="164.5" y1="673.5" x2="164.5" y2="683.5" stroke="#aaa"/>
<text x="153.48" y="706.90" font-size="18.20" fill="#000" textLength="23.39" lengthAdjust="spacingAndGlyphs" xml:space="preserve" stroke="#000" stroke-width="0.45">0h</text>
<line x1="258.5" y1="673.5" x2="258.5" y2="683.5" stroke="#aaa"/>
<text x="246.64" y="706.90" font-size="18.20" fill="#000" textLength="24.28" lengthAdjust="spacingAndGlyphs" xml:space="preserve" stroke="#000" stroke-width="0.45">1h</text>
<line x1="351.5" y1="673.5" x2="351.5" y2="683.5" stroke="#aaa"/>
<text x="340.23" y="706.90" font-size="18.20" fill="#000" textLength="23.65" lengthAdjust="spacingAndGlyphs" xml:space="preserve" stroke="#000" stroke-width="0.45">2h</text>
<line x1="444.5" y1="673.5" x2="444.5" y2="683.5" stroke="#aaa"/>
<text x="433.50" y="706.90" font-size="18.20" fill="#000" textLength="23.36" lengthAdjust="spacingAndGlyphs" xml:space="preserve" stroke="#000" stroke-width="0.45">3h</text>
<line x1="537.5" y1="673.5" x2="537.5" y2="683.5" stroke="#aaa"/>
<text x="526.83" y="706.90" font-size="18.20" fill="#000" textLength="23.02" lengthAdjust="spacingAndGlyphs" xml:space="preserve" stroke="#000" stroke-width="0.45">4h</text>
<line x1="630.5" y1="673.5" x2="630.5" y2="683.5" stroke="#aaa"/>
<text x="619.46" y="706.90" font-size="18.20" fill="#000" textLength="23.41" lengthAdjust="spacingAndGlyphs" xml:space="preserve" stroke="#000" stroke-width="0.45">5h</text>
<line x1="724.5" y1="673.5" x2="724.5" y2="683.5" stroke="#aaa"/>
<text x="713.22" y="706.90" font-size="18.20" fill="#000" textLength="23.66" lengthAdjust="spacingAndGlyphs" xml:space="preserve" stroke="#000" stroke-width="0.45">6h</text>
<line x1="817.5" y1="673.5" x2="817.5" y2="683.5" stroke="#aaa"/>
<text x="806.21" y="706.90" font-size="18.20" fill="#000" textLength="23.67" lengthAdjust="spacingAndGlyphs" xml:space="preserve" stroke="#000" stroke-width="0.45">7h</text>
<line x1="910.5" y1="673.5" x2="910.5" y2="683.5" stroke="#aaa"/>
<text x="899.38" y="706.90" font-size="18.20" fill="#000" textLength="23.49" lengthAdjust="spacingAndGlyphs" xml:space="preserve" stroke="#000" stroke-width="0.45">8h</text>
<line x1="1003.5" y1="673.5" x2="1003.5" y2="683.5" stroke="#aaa"/>
<text x="992.31" y="706.90" font-size="18.20" fill="#000" textLength="23.57" lengthAdjust="spacingAndGlyphs" xml:space="preserve" stroke="#000" stroke-width="0.45">9h</text>
<line x1="1096.5" y1="673.5" x2="1096.5" y2="683.5" stroke="#aaa"/>
<text x="1079.30" y="706.90" font-size="18.20" fill="#000" textLength="34.96" lengthAdjust="spacingAndGlyphs" xml:space="preserve" stroke="#000" stroke-width="0.45">10h</text>
<line x1="1189.5" y1="673.5" x2="1189.5" y2="683.5" stroke="#aaa"/>
<text x="1172.30" y="706.90" font-size="18.20" fill="#000" textLength="34.96" lengthAdjust="spacingAndGlyphs" xml:space="preserve" stroke="#000" stroke-width="0.45">11h</text>
<line x1="1282.5" y1="673.5" x2="1282.5" y2="683.5" stroke="#aaa"/>
<text x="1265.30" y="706.90" font-size="18.20" fill="#000" textLength="34.96" lengthAdjust="spacingAndGlyphs" xml:space="preserve" stroke="#000" stroke-width="0.45">12h</text>
<line x1="1376.5" y1="673.5" x2="1376.5" y2="683.5" stroke="#aaa"/>
<text x="1359.30" y="706.90" font-size="18.20" fill="#000" textLength="34.96" lengthAdjust="spacingAndGlyphs" xml:space="preserve" stroke="#000" stroke-width="0.45">13h</text>
<line x1="1469.5" y1="673.5" x2="1469.5" y2="683.5" stroke="#aaa"/>
<text x="1452.30" y="706.90" font-size="18.20" fill="#000" textLength="34.96" lengthAdjust="spacingAndGlyphs" xml:space="preserve" stroke="#000" stroke-width="0.45">14h</text>
<line x1="1562.5" y1="673.5" x2="1562.5" y2="683.5" stroke="#aaa"/>
<text x="1545.30" y="706.90" font-size="18.20" fill="#000" textLength="34.96" lengthAdjust="spacingAndGlyphs" xml:space="preserve" stroke="#000" stroke-width="0.45">15h</text>
<line x1="1655.5" y1="673.5" x2="1655.5" y2="683.5" stroke="#aaa"/>
<text x="1638.30" y="706.90" font-size="18.20" fill="#000" textLength="34.96" lengthAdjust="spacingAndGlyphs" xml:space="preserve" stroke="#000" stroke-width="0.45">16h</text>
<line x1="1748.5" y1="673.5" x2="1748.5" y2="683.5" stroke="#aaa"/>
<text x="1731.30" y="706.90" font-size="18.20" fill="#000" textLength="34.96" lengthAdjust="spacingAndGlyphs" xml:space="preserve" stroke="#000" stroke-width="0.45">17h</text>
<line x1="1842.5" y1="673.5" x2="1842.5" y2="683.5" stroke="#aaa"/>
<text x="1825.30" y="706.90" font-size="18.20" fill="#000" textLength="34.96" lengthAdjust="spacingAndGlyphs" xml:space="preserve" stroke="#000" stroke-width="0.45">18h</text>
<line x1="1935.5" y1="673.5" x2="1935.5" y2="683.5" stroke="#aaa"/>
<text x="1918.30" y="706.90" font-size="18.20" fill="#000" textLength="34.96" lengthAdjust="spacingAndGlyphs" xml:space="preserve" stroke="#000" stroke-width="0.45">19h</text>
<line x1="2028.5" y1="673.5" x2="2028.5" y2="683.5" stroke="#aaa"/>
<text x="2011.86" y="706.90" font-size="18.20" fill="#000" textLength="34.37" lengthAdjust="spacingAndGlyphs" xml:space="preserve" stroke="#000" stroke-width="0.45">20h</text>
<line x1="2121.5" y1="673.5" x2="2121.5" y2="683.5" stroke="#aaa"/>
<text x="2104.86" y="706.90" font-size="18.20" fill="#000" textLength="34.37" lengthAdjust="spacingAndGlyphs" xml:space="preserve" stroke="#000" stroke-width="0.45">21h</text>
<line x1="2214.5" y1="673.5" x2="2214.5" y2="683.5" stroke="#aaa"/>
<text x="2197.86" y="706.90" font-size="18.20" fill="#000" textLength="34.37" lengthAdjust="spacingAndGlyphs" xml:space="preserve" stroke="#000" stroke-width="0.45">22h</text>
<line x1="2307.5" y1="673.5" x2="2307.5" y2="683.5" stroke="#aaa"/>
<text x="2290.86" y="706.90" font-size="18.20" fill="#000" textLength="34.37" lengthAdjust="spacingAndGlyphs" xml:space="preserve" stroke="#000" stroke-width="0.45">23h</text>
<line x1="2400.5" y1="673.5" x2="2400.5" y2="683.5" stroke="#aaa"/>
<text x="2389.48" y="706.90" font-size="18.20" fill="#000" textLength="23.39" lengthAdjust="spacingAndGlyphs" xml:space="preserve" stroke="#000" stroke-width="0.45">0h</text>
<g transform="translate(86,384.5) rotate(-90)"><text x="-1.42" y="0.00" font-size="23.40" fill="#333" textLength="30.50" lengthAdjust="spacingAndGlyphs" xml:space="preserve" stroke="#333" stroke-width="0.6">kW</text></g>
<rect x="168.5" y="815.3" width="2247.35" height="504.7" fill="#fff"/>
<rect x="168.5" y="815.3" width="321.05" height="504.7" fill="#efefef"/>
<rect x="810.6" y="815.3" width="321.05" height="504.7" fill="#efefef"/>
<rect x="1452.7" y="815.3" width="321.05" height="504.7" fill="#efefef"/>
<rect x="2094.8" y="815.3" width="321.05" height="504.7" fill="#efefef"/>
<line x1="489.5" y1="815.3" x2="489.5" y2="1320.0" stroke="#cccccc"/>
<line x1="810.5" y1="815.3" x2="810.5" y2="1320.0" stroke="#cccccc"/>
<line x1="1131.5" y1="815.3" x2="1131.5" y2="1320.0" stroke="#cccccc"/>
<line x1="1452.5" y1="815.3" x2="1452.5" y2="1320.0" stroke="#cccccc"/>
<line x1="1773.5" y1="815.3" x2="1773.5" y2="1320.0" stroke="#cccccc"/>
<line x1="2094.5" y1="815.3" x2="2094.5" y2="1320.0" stroke="#cccccc"/>
<rect x="168.5" y="1247.9" width="2247.35" height="72.1" fill="#efefef"/>
<rect x="168.5" y="1103.7" width="2247.35" height="72.1" fill="#efefef"/>
<rect x="168.5" y="959.5" width="2247.35" height="72.1" fill="#efefef"/>
<rect x="168.5" y="815.3" width="2247.35" height="72.1" fill="#efefef"/>
<line x1="168.5" y1="1247.5" x2="2415.85" y2="1247.5" stroke="#b8b8b8"/>
<line x1="168.5" y1="1175.5" x2="2415.85" y2="1175.5" stroke="#b8b8b8"/>
<line x1="168.5" y1="1103.5" x2="2415.85" y2="1103.5" stroke="#b8b8b8"/>
<line x1="168.5" y1="1031.5" x2="2415.85" y2="1031.5" stroke="#b8b8b8"/>
<line x1="168.5" y1="959.5" x2="2415.85" y2="959.5" stroke="#b8b8b8"/>
<line x1="168.5" y1="887.5" x2="2415.85" y2="887.5" stroke="#b8b8b8"/>
<line x1="168.5" y1="815.5" x2="2415.85" y2="815.5" stroke="#b8b8b8"/>
<path d="M168.5 1320.0 V1291.16 H169.06 V1287.56 H170.17 V1287.56 H171.29 V1283.95 H172.4 V1283.95 H173.52 V1283.95 H174.63 V1287.56 H175.75 V1283.95 H176.86 V1283.95 H177.98 V1287.56 H179.09 V1287.56 H180.2 V1287.56 H181.32 V1283.95 H182.43 V1287.56 H183.55 V1280.35 H184.66 V1287.56 H185.78 V1287.56 H186.89 V1283.95 H188.01 V1287.56 H189.12 V1287.56 H190.24 V1287.56 H191.35 V1283.95 H192.47 V1280.35 H193.58 V1283.95 H194.7 V1283.95 H195.81 V1287.56 H196.93 V1287.56 H198.04 V1280.35 H199.16 V1280.35 H200.27 V1283.95 H201.39 V1283.95 H202.5 V1283.95 H203.61 V1283.95 H204.73 V1283.95 H205.84 V1280.35 H206.96 V1276.74 H208.07 V1276.74 H209.19 V1280.35 H210.3 V1283.95 H211.42 V1276.74 H212.53 V1276.74 H213.65 V1276.74 H214.76 V1276.74 H215.88 V1280.35 H216.99 V1276.74 H218.11 V1276.74 H219.22 V1276.74 H220.34 V1276.74 H221.45 V1280.35 H222.57 V1280.35 H223.68 V1276.74 H224.8 V1273.13 H225.91 V1280.35 H227.02 V1273.13 H228.14 V1280.35 H229.25 V1276.74 H230.37 V1276.74 H231.48 V1280.35 H232.6 V1276.74 H233.71 V1276.74 H234.83 V1280.35 H235.94 V1273.13 H237.06 V1276.74 H238.17 V1273.13 H239.29 V1283.95 H240.4 V1273.13 H241.52 V1273.13 H242.63 V1273.13 H243.75 V1273.13 H244.86 V1273.13 H245.98 V1229.88 H247.09 V1161.38 H248.21 V1320.0 Z M395.35 1320.0 V1312.79 H396.47 V1312.79 H397.58 V1312.79 H398.7 V1312.79 H399.81 V1312.79 H400.93 V1312.79 H402.04 V1312.79 H403.16 V1312.79 H404.27 V1312.79 H405.39 V1312.79 H406.5 V1312.79 H407.62 V1312.79 H408.73 V1312.79 H409.84 V1312.79 H410.96 V1312.79 H412.07 V1312.79 H413.19 V1312.79 H414.3 V1312.79 H415.42 V1312.79 H416.53 V1312.79 H417.65 V1312.79 H418.76 V1312.79 H419.88 V1312.79 H420.99 V1312.79 H422.11 V1312.79 H423.22 V1312.79 H424.34 V1312.79 H425.45 V1312.79 H426.57 V1312.79 H427.68 V1312.79 H428.8 V1312.79 H429.91 V1312.79 H431.03 V1312.79 H432.14 V1312.79 H433.25 V1312.79 H434.37 V1312.79 H435.48 V1312.79 H436.6 V1312.79 H437.71 V1312.79 H438.83 V1312.79 H439.94 V1312.79 H441.06 V1312.79 H442.17 V1312.79 H443.29 V1305.58 H444.4 V1305.58 H445.52 V1305.58 H446.63 V1301.97 H447.75 V1301.97 H448.86 V1301.97 H449.98 V1301.97 H451.09 V1298.37 H452.21 V1305.58 H453.32 V1305.58 H454.44 V1305.58 H455.55 V1305.58 H456.66 V1305.58 H457.78 V1301.97 H458.89 V1301.97 H460.01 V1305.58 H461.12 V1298.37 H462.24 V1305.58 H463.35 V1301.97 H464.47 V1301.97 H465.58 V1305.58 H466.7 V1305.58 H467.81 V1305.58 H468.93 V1305.58 H470.04 V1305.58 H471.16 V1305.58 H472.27 V1305.58 H473.39 V1305.58 H474.5 V1305.58 H475.62 V1305.58 H476.73 V1305.58 H477.85 V1301.97 H478.96 V1301.97 H480.07 V1301.97 H481.19 V1305.58 H482.3 V1301.97 H483.42 V1305.58 H484.53 V1305.58 H485.65 V1301.97 H486.76 V1298.37 H487.88 V1305.58 H488.99 V1301.97 H490.11 V1305.58 H491.22 V1301.97 H492.34 V1305.58 H493.45 V1305.58 H494.57 V1301.97 H495.68 V1305.58 H496.8 V1298.37 H497.91 V1301.97 H499.03 V1301.97 H500.14 V1301.97 H501.25 V1301.97 H502.37 V1294.77 H503.48 V1305.58 H504.6 V1298.37 H505.71 V1305.58 H506.83 V1301.97 H507.94 V1305.58 H509.06 V1298.37 H510.17 V1301.97 H511.29 V1298.37 H512.4 V1298.37 H513.52 V1305.58 H514.63 V1301.97 H515.75 V1301.97 H516.86 V1305.58 H517.98 V1301.97 H519.09 V1301.97 H520.21 V1298.37 H521.32 V1305.58 H522.44 V1305.58 H523.55 V1298.37 H524.66 V1301.97 H525.78 V1301.97 H526.89 V1301.97 H528.01 V1305.58 H529.12 V1305.58 H530.24 V1301.97 H531.35 V1294.77 H532.47 V1301.97 H533.58 V1294.77 H534.7 V1301.97 H535.81 V1298.37 H536.93 V1301.97 H538.04 V1298.37 H539.16 V1301.97 H540.27 V1298.37 H541.39 V1301.97 H542.5 V1301.97 H543.62 V1298.37 H544.73 V1298.37 H545.85 V1298.37 H546.96 V1301.97 H548.07 V1298.37 H549.19 V1294.77 H550.3 V1298.37 H551.42 V1301.97 H552.53 V1298.37 H553.65 V1298.37 H554.76 V1298.37 H555.88 V1301.97 H556.99 V1294.77 H558.11 V1301.97 H559.22 V1301.97 H560.34 V1301.97 H561.45 V1294.77 H562.57 V1301.97 H563.68 V1301.97 H564.8 V1298.37 H565.91 V1301.97 H567.03 V1301.97 H568.14 V1294.77 H569.26 V1301.97 H570.37 V1298.37 H571.48 V1298.37 H572.6 V1298.37 H573.71 V1294.77 H574.83 V1294.77 H575.94 V1294.77 H577.06 V1298.37 H578.17 V1298.37 H579.29 V1298.37 H580.4 V1298.37 H581.52 V1298.37 H582.63 V1298.37 H583.75 V1298.37 H584.86 V1294.77 H585.98 V1298.37 H587.09 V1298.37 H588.21 V1298.37 H589.32 V1298.37 H590.44 V1298.37 H591.55 V1301.97 H592.67 V1298.37 H593.78 V1301.97 H594.89 V1305.58 H596.01 V1298.37 H597.12 V1301.97 H598.24 V1305.58 H599.35 V1301.97 H600.47 V1305.58 H601.58 V1305.58 H602.7 V1301.97 H603.81 V1301.97 H604.93 V1301.97 H606.04 V1305.58 H607.16 V1298.37 H608.27 V1301.97 H609.39 V1301.97 H610.5 V1305.58 H611.62 V1305.58 H612.73 V1305.58 H613.85 V1309.18 H614.96 V1305.58 H616.07 V1301.97 H617.19 V1305.58 H618.3 V1301.97 H619.42 V1309.18 H620.53 V1301.97 H621.65 V1305.58 H622.76 V1305.58 H623.88 V1305.58 H624.99 V1305.58 H626.11 V1305.58 H627.22 V1305.58 H628.34 V1309.18 H629.45 V1301.97 H630.57 V1309.18 H631.68 V1309.18 H632.8 V1305.58 H633.91 V1305.58 H635.03 V1305.58 H636.14 V1305.58 H637.26 V1305.58 H638.37 V1305.58 H639.48 V1305.58 H640.6 V1305.58 H641.71 V1309.18 H642.83 V1305.58 H643.94 V1305.58 H645.06 V1309.18 H646.17 V1305.58 H647.29 V1305.58 H648.4 V1305.58 H649.52 V1301.97 H650.63 V1309.18 H651.75 V1305.58 H652.86 V1305.58 H653.98 V1305.58 H655.09 V1301.97 H656.21 V1309.18 H657.32 V1309.18 H658.44 V1305.58 H659.55 V1305.58 H660.67 V1305.58 H661.78 V1305.58 H662.89 V1301.97 H664.01 V1305.58 H665.12 V1305.58 H666.24 V1305.58 H667.35 V1309.18 H668.47 V1305.58 H669.58 V1305.58 H670.7 V1305.58 H671.81 V1301.97 H672.93 V1305.58 H674.04 V1305.58 H675.16 V1305.58 H676.27 V1305.58 H677.39 V1305.58 H678.5 V1301.97 H679.62 V1305.58 H680.73 V1305.58 H681.85 V1305.58 H682.96 V1305.58 H684.08 V1305.58 H685.19 V1305.58 H686.3 V1309.18 H687.42 V1305.58 H688.53 V1309.18 H689.65 V1305.58 H690.76 V1309.18 H691.88 V1309.18 H692.99 V1309.18 H694.11 V1309.18 H695.22 V1309.18 H696.34 V1309.18 H697.45 V1305.58 H698.57 V1309.18 H699.68 V1309.18 H700.8 V1309.18 H701.91 V1309.18 H703.03 V1309.18 H704.14 V1305.58 H705.26 V1309.18 H706.37 V1309.18 H707.48 V1309.18 H708.6 V1309.18 H709.71 V1309.18 H710.83 V1309.18 H711.94 V1305.58 H713.06 V1309.18 H714.17 V1309.18 H715.29 V1305.58 H716.4 V1309.18 H717.52 V1305.58 H718.63 V1309.18 H719.75 V1301.97 H720.86 V1301.97 H721.98 V1305.58 H723.09 V1305.58 H724.21 V1305.58 H725.32 V1301.97 H726.44 V1305.58 H727.55 V1305.58 H728.67 V1305.58 H729.78 V1301.97 H730.89 V1309.18 H732.01 V1305.58 H733.12 V1305.58 H734.24 V1305.58 H735.35 V1305.58 H736.47 V1301.97 H737.58 V1305.58 H738.7 V1301.97 H739.81 V1305.58 H740.93 V1305.58 H742.04 V1305.58 H743.16 V1301.97 H744.27 V1305.58 H745.39 V1305.58 H746.5 V1305.58 H747.62 V1305.58 H748.73 V1309.18 H749.85 V1305.58 H750.96 V1301.97 H752.08 V1305.58 H753.19 V1305.58 H754.3 V1298.37 H755.42 V1305.58 H756.53 V1305.58 H757.65 V1305.58 H758.76 V1305.58 H759.88 V1305.58 H760.99 V1305.58 H762.11 V1305.58 H763.22 V1298.37 H764.34 V1305.58 H765.45 V1301.97 H766.57 V1298.37 H767.68 V1301.97 H768.8 V1298.37 H769.91 V1305.58 H771.03 V1298.37 H772.14 V1301.97 H773.26 V1305.58 H774.37 V1298.37 H775.49 V1305.58 H776.6 V1305.58 H777.71 V1294.77 H778.83 V1294.77 H779.94 V1294.77 H781.06 V1294.77 H782.17 V1294.77 H783.29 V1294.77 H784.4 V1294.77 H785.52 V1294.77 H786.63 V1294.77 H787.75 V1294.77 H788.86 V1294.77 H789.98 V1294.77 H791.09 V1294.77 H792.21 V1294.77 H793.32 V1291.16 H794.44 V1291.16 H795.55 V1291.16 H796.67 V1291.16 H797.78 V1291.16 H798.9 V1291.16 H800.01 V1291.16 H801.12 V1291.16 H802.24 V1291.16 H803.35 V1291.16 H804.47 V1291.16 H805.58 V1291.16 H806.7 V1291.16 H807.81 V1287.56 H808.93 V1287.56 H810.04 V1283.95 H811.16 V1287.56 H812.27 V1287.56 H813.39 V1283.95 H814.5 V1287.56 H815.62 V1287.56 H816.73 V1287.56 H817.85 V1287.56 H818.96 V1287.56 H820.08 V1287.56 H821.19 V1287.56 H822.3 V1283.95 H823.42 V1287.56 H824.53 V1287.56 H825.65 V1287.56 H826.76 V1283.95 H827.88 V1287.56 H828.99 V1283.95 H830.11 V1287.56 H831.22 V1283.95 H832.34 V1287.56 H833.45 V1283.95 H834.57 V1287.56 H835.68 V1283.95 H836.8 V1287.56 H837.91 V1287.56 H839.03 V1287.56 H840.14 V1287.56 H841.26 V1287.56 H842.37 V1287.56 H843.49 V1287.56 H844.6 V1287.56 H845.71 V1287.56 H846.83 V1287.56 H847.94 V1283.95 H849.06 V1287.56 H850.17 V1283.95 H851.29 V1287.56 H852.4 V1287.56 H853.52 V1287.56 H854.63 V1287.56 H855.75 V1287.56 H856.86 V1287.56 H857.98 V1287.56 H859.09 V1283.95 H860.21 V1287.56 H861.32 V1287.56 H862.44 V1287.56 H863.55 V1287.56 H864.67 V1283.95 H865.78 V1283.95 H866.9 V1287.56 H868.01 V1287.56 H869.12 V1287.56 H870.24 V1287.56 H871.35 V1287.56 H872.47 V1287.56 H873.58 V1287.56 H874.7 V1287.56 H875.81 V1283.95 H876.93 V1287.56 H878.04 V1287.56 H879.16 V1287.56 H880.27 V1283.95 H881.39 V1287.56 H882.5 V1287.56 H883.62 V1287.56 H884.73 V1287.56 H885.85 V1283.95 H886.96 V1287.56 H888.08 V1283.95 H889.19 V1283.95 H890.31 V1287.56 H891.42 V1283.95 H892.53 V1283.95 H893.65 V1287.56 H894.76 V1283.95 H895.88 V1283.95 H896.99 V1280.35 H898.11 V1283.95 H899.22 V1283.95 H900.34 V1283.95 H901.45 V1283.95 H902.57 V1283.95 H903.68 V1283.95 H904.8 V1283.95 H905.91 V1283.95 H907.03 V1283.95 H908.14 V1283.95 H909.26 V1280.35 H910.37 V1283.95 H911.49 V1283.95 H912.6 V1280.35 H913.72 V1283.95 H914.83 V1280.35 H915.94 V1280.35 H917.06 V1280.35 H918.17 V1283.95 H919.29 V1283.95 H920.4 V1280.35 H921.52 V1280.35 H922.63 V1280.35 H923.75 V1283.95 H924.86 V1283.95 H925.98 V1280.35 H927.09 V1283.95 H928.21 V1283.95 H929.32 V1283.95 H930.44 V1280.35 H931.55 V1280.35 H932.67 V1283.95 H933.78 V1280.35 H934.9 V1280.35 H936.01 V1283.95 H937.12 V1280.35 H938.24 V1283.95 H939.35 V1283.95 H940.47 V1283.95 H941.58 V1280.35 H942.7 V1283.95 H943.81 V1280.35 H944.93 V1283.95 H946.04 V1283.95 H947.16 V1280.35 H948.27 V1280.35 H949.39 V1283.95 H950.5 V1283.95 H951.62 V1283.95 H952.73 V1283.95 H953.85 V1283.95 H954.96 V1276.74 H956.08 V1283.95 H957.19 V1283.95 H958.31 V1276.74 H959.42 V1283.95 H960.53 V1283.95 H961.65 V1283.95 H962.76 V1280.35 H963.88 V1283.95 H964.99 V1283.95 H966.11 V1283.95 H967.22 V1283.95 H968.34 V1283.95 H969.45 V1283.95 H970.57 V1280.35 H971.68 V1280.35 H972.8 V1280.35 H973.91 V1280.35 H975.03 V1287.56 H976.14 V1280.35 H977.26 V1283.95 H978.37 V1283.95 H979.49 V1280.35 H980.6 V1287.56 H981.72 V1283.95 H982.83 V1280.35 H983.94 V1283.95 H985.06 V1280.35 H986.17 V1280.35 H987.29 V1283.95 H988.4 V1283.95 H989.52 V1283.95 H990.63 V1280.35 H991.75 V1283.95 H992.86 V1287.56 H993.98 V1280.35 H995.09 V1287.56 H996.21 V1287.56 H997.32 V1283.95 H998.44 V1283.95 H999.55 V1280.35 H1000.67 V1283.95 H1001.78 V1287.56 H1002.9 V1283.95 H1004.01 V1283.95 H1005.13 V1283.95 H1006.24 V1280.35 H1007.35 V1283.95 H1008.47 V1280.35 H1009.58 V1283.95 H1010.7 V1280.35 H1011.81 V1287.56 H1012.93 V1276.74 H1014.04 V1287.56 H1015.16 V1283.95 H1016.27 V1280.35 H1017.39 V1280.35 H1018.5 V1283.95 H1019.62 V1283.95 H1020.73 V1283.95 H1021.85 V1283.95 H1022.96 V1283.95 H1024.08 V1280.35 H1025.19 V1283.95 H1026.31 V1287.56 H1027.42 V1280.35 H1028.53 V1283.95 H1029.65 V1283.95 H1030.76 V1287.56 H1031.88 V1280.35 H1032.99 V1283.95 H1034.11 V1280.35 H1035.22 V1283.95 H1036.34 V1280.35 H1037.45 V1283.95 H1038.57 V1283.95 H1039.68 V1283.95 H1040.8 V1283.95 H1041.91 V1283.95 H1043.03 V1283.95 H1044.14 V1283.95 H1045.26 V1283.95 H1046.37 V1276.74 H1047.49 V1280.35 H1048.6 V1283.95 H1049.72 V1283.95 H1050.83 V1283.95 H1051.94 V1280.35 H1053.06 V1283.95 H1054.17 V1283.95 H1055.29 V1283.95 H1056.4 V1283.95 H1057.52 V1280.35 H1058.63 V1283.95 H1059.75 V1283.95 H1060.86 V1283.95 H1061.98 V1283.95 H1063.09 V1280.35 H1064.21 V1283.95 H1065.32 V1283.95 H1066.44 V1283.95 H1067.55 V1283.95 H1068.67 V1280.35 H1069.78 V1283.95 H1070.9 V1283.95 H1072.01 V1283.95 H1073.13 V1283.95 H1074.24 V1280.35 H1075.35 V1283.95 H1076.47 V1283.95 H1077.58 V1280.35 H1078.7 V1280.35 H1079.81 V1280.35 H1080.93 V1283.95 H1082.04 V1280.35 H1083.16 V1283.95 H1084.27 V1283.95 H1085.39 V1283.95 H1086.5 V1280.35 H1087.62 V1283.95 H1088.73 V1280.35 H1089.85 V1276.74 H1090.96 V1283.95 H1092.08 V1283.95 H1093.19 V1280.35 H1094.31 V1280.35 H1095.42 V1283.95 H1096.54 V1280.35 H1097.65 V1283.95 H1098.76 V1280.35 H1099.88 V1283.95 H1100.99 V1276.74 H1102.11 V1280.35 H1103.22 V1283.95 H1104.34 V1280.35 H1105.45 V1280.35 H1106.57 V1280.35 H1107.68 V1283.95 H1108.8 V1283.95 H1109.91 V1283.95 H1111.03 V1283.95 H1112.14 V1283.95 H1113.26 V1283.95 H1114.37 V1276.74 H1115.49 V1283.95 H1116.6 V1283.95 H1117.72 V1280.35 H1118.83 V1283.95 H1119.95 V1280.35 H1121.06 V1276.74 H1122.17 V1280.35 H1123.29 V1276.74 H1124.4 V1283.95 H1125.52 V1276.74 H1126.63 V1283.95 H1127.75 V1280.35 H1128.86 V1280.35 H1129.98 V1283.95 H1131.09 V1280.35 H1132.21 V1280.35 H1133.32 V1280.35 H1134.44 V1280.35 H1135.55 V1280.35 H1136.67 V1280.35 H1137.78 V1280.35 H1138.9 V1280.35 H1140.01 V1283.95 H1141.13 V1283.95 H1142.24 V1283.95 H1143.35 V1283.95 H1144.47 V1280.35 H1145.58 V1280.35 H1146.7 V1276.74 H1147.81 V1280.35 H1148.93 V1280.35 H1150.04 V1280.35 H1151.16 V1283.95 H1152.27 V1280.35 H1153.39 V1276.74 H1154.5 V1280.35 H1155.62 V1280.35 H1156.73 V1280.35 H1157.85 V1283.95 H1158.96 V1280.35 H1160.08 V1280.35 H1161.19 V1280.35 H1162.31 V1280.35 H1163.42 V1280.35 H1164.54 V1280.35 H1165.65 V1280.35 H1166.76 V1280.35 H1167.88 V1280.35 H1168.99 V1280.35 H1170.11 V1280.35 H1171.22 V1280.35 H1172.34 V1280.35 H1173.45 V1280.35 H1174.57 V1276.74 H1175.68 V1280.35 H1176.8 V1276.74 H1177.91 V1276.74 H1179.03 V1280.35 H1180.14 V1280.35 H1181.26 V1280.35 H1182.37 V1280.35 H1183.49 V1280.35 H1184.6 V1280.35 H1185.72 V1280.35 H1186.83 V1283.95 H1187.95 V1283.95 H1189.06 V1280.35 H1190.17 V1280.35 H1191.29 V1280.35 H1192.4 V1280.35 H1193.52 V1280.35 H1194.63 V1280.35 H1195.75 V1280.35 H1196.86 V1276.74 H1197.98 V1276.74 H1199.09 V1280.35 H1200.21 V1280.35 H1201.32 V1276.74 H1202.44 V1280.35 H1203.55 V1280.35 H1204.67 V1280.35 H1205.78 V1280.35 H1206.9 V1283.95 H1208.01 V1276.74 H1209.13 V1276.74 H1210.24 V1276.74 H1211.36 V1320.0 Z M1358.5 1320.0 V1204.64 H1359.62 V1204.64 H1360.73 V1204.64 H1361.85 V1204.64 H1362.96 V1211.85 H1364.08 V1211.85 H1365.19 V1211.85 H1366.31 V1226.27 H1367.42 V1226.27 H1368.54 V1237.09 H1369.65 V1244.3 H1370.77 V1244.3 H1371.88 V1204.64 H1372.99 V1247.9 H1374.11 V1247.9 H1375.22 V1258.71 H1376.34 V1298.37 H1377.45 V1294.77 H1378.57 V1291.16 H1379.68 V1298.37 H1380.8 V1291.16 H1381.91 V1298.37 H1383.03 V1298.37 H1384.14 V1294.77 H1385.26 V1298.37 H1386.37 V1291.16 H1387.49 V1298.37 H1388.6 V1298.37 H1389.72 V1298.37 H1390.83 V1291.16 H1391.95 V1298.37 H1393.06 V1298.37 H1394.18 V1294.77 H1395.29 V1298.37 H1396.4 V1298.37 H1397.52 V1294.77 H1398.63 V1298.37 H1399.75 V1298.37 H1400.86 V1298.37 H1401.98 V1298.37 H1403.09 V1291.16 H1404.21 V1291.16 H1405.32 V1291.16 H1406.44 V1291.16 H1407.55 V1287.56 H1408.67 V1291.16 H1409.78 V1287.56 H1410.9 V1287.56 H1412.01 V1283.95 H1413.13 V1291.16 H1414.24 V1287.56 H1415.36 V1287.56 H1416.47 V1287.56 H1417.59 V1283.95 H1418.7 V1280.35 H1419.81 V1287.56 H1420.93 V1283.95 H1422.04 V1280.35 H1423.16 V1283.95 H1424.27 V1280.35 H1425.39 V1283.95 H1426.5 V1283.95 H1427.62 V1283.95 H1428.73 V1280.35 H1429.85 V1283.95 H1430.96 V1283.95 H1432.08 V1283.95 H1433.19 V1283.95 H1434.31 V1283.95 H1435.42 V1276.74 H1436.54 V1280.35 H1437.65 V1280.35 H1438.77 V1283.95 H1439.88 V1283.95 H1441 V1283.95 H1442.11 V1283.95 H1443.22 V1280.35 H1444.34 V1276.74 H1445.45 V1283.95 H1446.57 V1283.95 H1447.68 V1283.95 H1448.8 V1283.95 H1449.91 V1280.35 H1451.03 V1276.74 H1452.14 V1283.95 H1453.26 V1283.95 H1454.37 V1283.95 H1455.49 V1283.95 H1456.6 V1280.35 H1457.72 V1283.95 H1458.83 V1283.95 H1459.95 V1283.95 H1461.06 V1280.35 H1462.18 V1276.74 H1463.29 V1283.95 H1464.4 V1280.35 H1465.52 V1283.95 H1466.63 V1283.95 H1467.75 V1280.35 H1468.86 V1280.35 H1469.98 V1283.95 H1471.09 V1280.35 H1472.21 V1280.35 H1473.32 V1283.95 H1474.44 V1283.95 H1475.55 V1283.95 H1476.67 V1283.95 H1477.78 V1280.35 H1478.9 V1283.95 H1480.01 V1280.35 H1481.13 V1276.74 H1482.24 V1280.35 H1483.36 V1283.95 H1484.47 V1280.35 H1485.59 V1287.56 H1486.7 V1280.35 H1487.81 V1280.35 H1488.93 V1283.95 H1490.04 V1283.95 H1491.16 V1276.74 H1492.27 V1287.56 H1493.39 V1283.95 H1494.5 V1280.35 H1495.62 V1283.95 H1496.73 V1283.95 H1497.85 V1283.95 H1498.96 V1283.95 H1500.08 V1280.35 H1501.19 V1283.95 H1502.31 V1280.35 H1503.42 V1283.95 H1504.54 V1283.95 H1505.65 V1280.35 H1506.77 V1283.95 H1507.88 V1280.35 H1509 V1283.95 H1510.11 V1276.74 H1511.22 V1283.95 H1512.34 V1283.95 H1513.45 V1280.35 H1514.57 V1283.95 H1515.68 V1283.95 H1516.8 V1283.95 H1517.91 V1283.95 H1519.03 V1283.95 H1520.14 V1283.95 H1521.26 V1283.95 H1522.37 V1280.35 H1523.49 V1287.56 H1524.6 V1287.56 H1525.72 V1211.85 H1526.83 V1161.38 H1527.95 V1161.38 H1529.06 V1172.19 H1530.18 V1172.19 H1531.29 V1172.19 H1532.41 V1320.0 Z M1679.55 1320.0 V1305.58 H1680.67 V1309.18 H1681.78 V1309.18 H1682.9 V1309.18 H1684.01 V1309.18 H1685.13 V1305.58 H1686.24 V1305.58 H1687.36 V1305.58 H1688.47 V1309.18 H1689.59 V1301.97 H1690.7 V1305.58 H1691.82 V1309.18 H1692.93 V1305.58 H1694.04 V1305.58 H1695.16 V1305.58 H1696.27 V1305.58 H1697.39 V1305.58 H1698.5 V1305.58 H1699.62 V1301.97 H1700.73 V1305.58 H1701.85 V1305.58 H1702.96 V1305.58 H1704.08 V1305.58 H1705.19 V1305.58 H1706.31 V1305.58 H1707.42 V1301.97 H1708.54 V1305.58 H1709.65 V1305.58 H1710.77 V1305.58 H1711.88 V1301.97 H1713 V1305.58 H1714.11 V1301.97 H1715.23 V1305.58 H1716.34 V1305.58 H1717.45 V1305.58 H1718.57 V1301.97 H1719.68 V1305.58 H1720.8 V1305.58 H1721.91 V1305.58 H1723.03 V1305.58 H1724.14 V1305.58 H1725.26 V1305.58 H1726.37 V1305.58 H1727.49 V1305.58 H1728.6 V1298.37 H1729.72 V1298.37 H1730.83 V1298.37 H1731.95 V1294.77 H1733.06 V1298.37 H1734.18 V1294.77 H1735.29 V1298.37 H1736.41 V1294.77 H1737.52 V1291.16 H1738.64 V1291.16 H1739.75 V1291.16 H1740.86 V1294.77 H1741.98 V1294.77 H1743.09 V1291.16 H1744.21 V1294.77 H1745.32 V1294.77 H1746.44 V1294.77 H1747.55 V1291.16 H1748.67 V1291.16 H1749.78 V1291.16 H1750.9 V1294.77 H1752.01 V1291.16 H1753.13 V1287.56 H1754.24 V1287.56 H1755.36 V1291.16 H1756.47 V1294.77 H1757.59 V1291.16 H1758.7 V1294.77 H1759.82 V1291.16 H1760.93 V1294.77 H1762.05 V1291.16 H1763.16 V1287.56 H1764.27 V1294.77 H1765.39 V1294.77 H1766.5 V1294.77 H1767.62 V1294.77 H1768.73 V1294.77 H1769.85 V1294.77 H1770.96 V1294.77 H1772.08 V1294.77 H1773.19 V1294.77 H1774.31 V1287.56 H1775.42 V1287.56 H1776.54 V1287.56 H1777.65 V1287.56 H1778.77 V1287.56 H1779.88 V1280.35 H1781 V1280.35 H1782.11 V1283.95 H1783.23 V1287.56 H1784.34 V1283.95 H1785.45 V1283.95 H1786.57 V1287.56 H1787.68 V1287.56 H1788.8 V1283.95 H1789.91 V1287.56 H1791.03 V1283.95 H1792.14 V1283.95 H1793.26 V1283.95 H1794.37 V1283.95 H1795.49 V1283.95 H1796.6 V1283.95 H1797.72 V1283.95 H1798.83 V1276.74 H1799.95 V1276.74 H1801.06 V1283.95 H1802.18 V1280.35 H1803.29 V1283.95 H1804.41 V1283.95 H1805.52 V1283.95 H1806.64 V1283.95 H1807.75 V1283.95 H1808.86 V1280.35 H1809.98 V1276.74 H1811.09 V1280.35 H1812.21 V1280.35 H1813.32 V1280.35 H1814.44 V1280.35 H1815.55 V1280.35 H1816.67 V1276.74 H1817.78 V1280.35 H1818.9 V1276.74 H1820.01 V1280.35 H1821.13 V1280.35 H1822.24 V1280.35 H1823.36 V1280.35 H1824.47 V1280.35 H1825.59 V1276.74 H1826.7 V1280.35 H1827.82 V1280.35 H1828.93 V1280.35 H1830.05 V1280.35 H1831.16 V1280.35 H1832.27 V1280.35 H1833.39 V1276.74 H1834.5 V1280.35 H1835.62 V1276.74 H1836.73 V1280.35 H1837.85 V1280.35 H1838.96 V1276.74 H1840.08 V1280.35 H1841.19 V1280.35 H1842.31 V1276.74 H1843.42 V1276.74 H1844.54 V1280.35 H1845.65 V1280.35 H1846.77 V1273.13 H1847.88 V1273.13 H1849 V1273.13 H1850.11 V1265.92 H1851.23 V1265.92 H1852.34 V1247.9 H1853.46 V1320.0 Z M2000.6 1320.0 V1233.48 H2001.72 V1233.48 H2002.83 V1276.74 H2003.95 V1276.74 H2005.06 V1294.77 H2006.18 V1294.77 H2007.29 V1294.77 H2008.41 V1291.16 H2009.52 V1294.77 H2010.64 V1294.77 H2011.75 V1294.77 H2012.87 V1294.77 H2013.98 V1294.77 H2015.09 V1291.16 H2016.21 V1294.77 H2017.32 V1291.16 H2018.44 V1291.16 H2019.55 V1294.77 H2020.67 V1291.16 H2021.78 V1291.16 H2022.9 V1294.77 H2024.01 V1294.77 H2025.13 V1294.77 H2026.24 V1294.77 H2027.36 V1294.77 H2028.47 V1291.16 H2029.59 V1294.77 H2030.7 V1294.77 H2031.82 V1294.77 H2032.93 V1294.77 H2034.05 V1294.77 H2035.16 V1294.77 H2036.28 V1294.77 H2037.39 V1294.77 H2038.5 V1291.16 H2039.62 V1294.77 H2040.73 V1294.77 H2041.85 V1294.77 H2042.96 V1291.16 H2044.08 V1294.77 H2045.19 V1291.16 H2046.31 V1287.56 H2047.42 V1280.35 H2048.54 V1280.35 H2049.65 V1283.95 H2050.77 V1280.35 H2051.88 V1287.56 H2053 V1287.56 H2054.11 V1283.95 H2055.23 V1283.95 H2056.34 V1287.56 H2057.46 V1287.56 H2058.57 V1287.56 H2059.69 V1287.56 H2060.8 V1287.56 H2061.91 V1283.95 H2063.03 V1287.56 H2064.14 V1283.95 H2065.26 V1283.95 H2066.37 V1280.35 H2067.49 V1283.95 H2068.6 V1287.56 H2069.72 V1287.56 H2070.83 V1287.56 H2071.95 V1287.56 H2073.06 V1280.35 H2074.18 V1287.56 H2075.29 V1280.35 H2076.41 V1287.56 H2077.52 V1283.95 H2078.64 V1283.95 H2079.75 V1280.35 H2080.87 V1287.56 H2081.98 V1287.56 H2083.1 V1287.56 H2084.21 V1280.35 H2085.32 V1287.56 H2086.44 V1287.56 H2087.55 V1287.56 H2088.67 V1287.56 H2089.78 V1283.95 H2090.9 V1287.56 H2092.01 V1287.56 H2093.13 V1287.56 H2094.24 V1291.16 H2095.36 V1280.35 H2096.47 V1283.95 H2097.59 V1291.16 H2098.7 V1287.56 H2099.82 V1280.35 H2100.93 V1283.95 H2102.05 V1287.56 H2103.16 V1287.56 H2104.28 V1283.95 H2105.39 V1280.35 H2106.5 V1287.56 H2107.62 V1287.56 H2108.73 V1280.35 H2109.85 V1280.35 H2110.96 V1287.56 H2112.08 V1287.56 H2113.19 V1283.95 H2114.31 V1280.35 H2115.42 V1287.56 H2116.54 V1283.95 H2117.65 V1283.95 H2118.77 V1276.74 H2119.88 V1283.95 H2121 V1287.56 H2122.11 V1287.56 H2123.23 V1276.74 H2124.34 V1280.35 H2125.46 V1283.95 H2126.57 V1287.56 H2127.69 V1276.74 H2128.8 V1280.35 H2129.91 V1280.35 H2131.03 V1283.95 H2132.14 V1283.95 H2133.26 V1276.74 H2134.37 V1273.13 H2135.49 V1283.95 H2136.6 V1283.95 H2137.72 V1283.95 H2138.83 V1276.74 H2139.95 V1276.74 H2141.06 V1276.74 H2142.18 V1283.95 H2143.29 V1283.95 H2144.41 V1276.74 H2145.52 V1276.74 H2146.64 V1273.13 H2147.75 V1280.35 H2148.87 V1283.95 H2149.98 V1276.74 H2151.1 V1269.53 H2152.21 V1273.13 H2153.32 V1276.74 H2154.44 V1283.95 H2155.55 V1276.74 H2156.67 V1273.13 H2157.78 V1273.13 H2158.9 V1273.13 H2160.01 V1280.35 H2161.13 V1280.35 H2162.24 V1276.74 H2163.36 V1269.53 H2164.47 V1273.13 H2165.59 V1273.13 H2166.7 V1273.13 H2167.82 V1280.35 H2168.93 V1276.74 H2170.05 V1161.38 H2171.16 V1157.78 H2172.28 V1168.59 H2173.39 V1164.98 H2174.51 V1320.0 Z M2321.65 1320.0 V1312.79 H2322.77 V1309.18 H2323.88 V1309.18 H2325 V1312.79 H2326.11 V1309.18 H2327.23 V1309.18 H2328.34 V1312.79 H2329.46 V1309.18 H2330.57 V1312.79 H2331.69 V1312.79 H2332.8 V1309.18 H2333.92 V1309.18 H2335.03 V1312.79 H2336.14 V1312.79 H2337.26 V1309.18 H2338.37 V1312.79 H2339.49 V1309.18 H2340.6 V1312.79 H2341.72 V1312.79 H2342.83 V1312.79 H2343.95 V1312.79 H2345.06 V1312.79 H2346.18 V1312.79 H2347.29 V1312.79 H2348.41 V1312.79 H2349.52 V1312.79 H2350.64 V1312.79 H2351.75 V1316.39 H2352.87 V1312.79 H2353.98 V1312.79 H2355.1 V1312.79 H2356.21 V1312.79 H2357.33 V1312.79 H2358.44 V1312.79 H2359.55 V1312.79 H2360.67 V1312.79 H2361.78 V1316.39 H2362.9 V1312.79 H2364.01 V1312.79 H2365.13 V1312.79 H2366.24 V1309.18 H2367.36 V1312.79 H2368.47 V1312.79 H2369.59 V1312.79 H2370.7 V1305.58 H2371.82 V1301.97 H2372.93 V1305.58 H2374.05 V1305.58 H2375.16 V1309.18 H2376.28 V1305.58 H2377.39 V1301.97 H2378.51 V1305.58 H2379.62 V1309.18 H2380.74 V1305.58 H2381.85 V1301.97 H2382.96 V1305.58 H2384.08 V1305.58 H2385.19 V1305.58 H2386.31 V1309.18 H2387.42 V1298.37 H2388.54 V1309.18 H2389.65 V1309.18 H2390.77 V1309.18 H2391.88 V1301.97 H2393 V1309.18 H2394.11 V1309.18 H2395.23 V1305.58 H2396.34 V1305.58 H2397.46 V1305.58 H2398.57 V1309.18 H2399.69 V1309.18 H2400.8 V1305.58 H2401.92 V1301.97 H2403.03 V1309.18 H2404.15 V1305.58 H2405.26 V1309.18 H2406.37 V1301.97 H2407.49 V1305.58 H2408.6 V1305.58 H2409.72 V1305.58 H2410.83 V1301.97 H2411.95 V1301.97 H2413.06 V1305.58 H2414.18 V1320.0 Z" fill="#a0edc4"/>
<path d="M248.21 1320.0 V1136.14 H249.32 V1136.14 H250.43 V1074.86 H251.55 V1157.78 H252.66 V1107.31 H253.78 V1107.31 H254.89 V1017.18 H256.01 V1046.02 H257.12 V1046.02 H258.24 V1020.78 H259.35 V1006.37 H260.47 V1067.65 H261.58 V1067.65 H262.7 V1154.17 H263.81 V1092.88 H264.93 V1042.41 H266.04 V1056.84 H267.16 V1056.84 H268.27 V1009.97 H269.39 V1067.65 H270.5 V1067.65 H271.62 V1056.84 H272.73 V1031.6 H273.84 V1136.14 H274.96 V1136.14 H276.07 V1114.51 H277.19 V1053.23 H278.3 V1114.51 H279.42 V1114.51 H280.53 V1060.44 H281.65 V1110.91 H282.76 V1110.91 H283.88 V1110.91 H284.99 V1118.12 H286.11 V1143.36 H287.22 V1110.91 H288.34 V1082.07 H289.45 V1082.07 H290.57 V1060.44 H291.68 V1020.78 H292.8 V1006.37 H293.91 V1006.37 H295.02 V955.89 H296.14 V1006.37 H297.25 V1064.05 H298.37 V1078.46 H299.48 V1078.46 H300.6 V1096.49 H301.71 V1154.17 H302.83 V1038.81 H303.94 V1049.62 H305.06 V1049.62 H306.17 V1074.86 H307.29 V1110.91 H308.4 V1121.72 H309.52 V1121.72 H310.63 V1132.54 H311.75 V1114.51 H312.86 V1114.51 H313.98 V1103.7 H315.09 V1103.7 H316.21 V1100.1 H317.32 V1100.1 H318.43 V1125.33 H319.55 V1056.84 H320.66 V1071.25 H321.78 V1089.28 H322.89 V1089.28 H324.01 V1096.49 H325.12 V1132.54 H326.24 V1125.33 H327.35 V1125.33 H328.47 V1136.14 H329.58 V1121.72 H330.7 V1071.25 H331.81 V1071.25 H332.93 V1071.25 H334.04 V1067.65 H335.16 V1067.65 H336.27 V1046.02 H337.39 V1082.07 H338.5 V1082.07 H339.62 V1042.41 H340.73 V1042.41 H341.84 V1071.25 H342.96 V1071.25 H344.07 V1071.25 H345.19 V1060.44 H346.3 V1118.12 H347.42 V1161.38 H348.53 V1136.14 H349.65 V1150.57 H350.76 V1150.57 H351.88 V1132.54 H352.99 V1074.86 H354.11 V1121.72 H355.22 V1121.72 H356.34 V1128.93 H357.45 V1125.33 H358.57 V1114.51 H359.68 V1114.51 H360.8 V1114.51 H361.91 V1089.28 H363.03 V1089.28 H364.14 V1089.28 H365.25 V1089.28 H366.37 V1193.83 H367.48 V1197.43 H368.6 V1226.27 H369.71 V1226.27 H370.83 V1233.48 H371.94 V1237.09 H373.06 V1219.06 H374.17 V1219.06 H375.29 V1219.06 H376.4 V1226.27 H377.52 V1226.27 H378.63 V1226.27 H379.75 V1233.48 H380.86 V1237.09 H381.98 V1237.09 H383.09 V1226.27 H384.21 V1244.3 H385.32 V1244.3 H386.43 V1269.53 H387.55 V1269.53 H388.66 V1269.53 H389.78 V1309.18 H390.89 V1309.18 H392.01 V1309.18 H393.12 V1309.18 H394.24 V1312.79 H395.35 V1320.0 Z M1211.36 1320.0 V1255.11 H1212.47 V1161.38 H1213.58 V1161.38 H1214.7 V1168.59 H1215.81 V1168.59 H1216.93 V1125.33 H1218.04 V1046.02 H1219.16 V941.47 H1220.27 V941.47 H1221.39 V934.26 H1222.5 V995.55 H1223.62 V1046.02 H1224.73 V981.13 H1225.85 V981.13 H1226.96 V988.34 H1228.08 V1006.37 H1229.19 V973.92 H1230.31 V984.73 H1231.42 V1046.02 H1232.54 V1046.02 H1233.65 V1096.49 H1234.77 V1100.1 H1235.88 V1056.84 H1236.99 V999.15 H1238.11 V999.15 H1239.22 V995.55 H1240.34 V1006.37 H1241.45 V999.15 H1242.57 V999.15 H1243.68 V999.15 H1244.8 V973.92 H1245.91 V941.47 H1247.03 V973.92 H1248.14 V945.08 H1249.26 V945.08 H1250.37 V1009.97 H1251.49 V923.45 H1252.6 V1024.39 H1253.72 V1027.99 H1254.83 V1107.31 H1255.95 V1071.25 H1257.06 V1031.6 H1258.17 V1017.18 H1259.29 V1017.18 H1260.4 V991.94 H1261.52 V948.68 H1262.63 V948.68 H1263.75 V1089.28 H1264.86 V1006.37 H1265.98 V959.5 H1267.09 V959.5 H1268.21 V1024.39 H1269.32 V1046.02 H1270.44 V1121.72 H1271.55 V1071.25 H1272.67 V941.47 H1273.78 V941.47 H1274.9 V973.92 H1276.01 V1020.78 H1277.13 V1006.37 H1278.24 V1053.23 H1279.36 V1053.23 H1280.47 V1064.05 H1281.58 V1009.97 H1282.7 V1009.97 H1283.81 V1027.99 H1284.93 V1027.99 H1286.04 V1049.62 H1287.16 V1064.05 H1288.27 V1146.96 H1289.39 V1146.96 H1290.5 V1154.17 H1291.62 V1136.14 H1292.73 V1136.14 H1293.85 V1067.65 H1294.96 V1002.76 H1296.08 V1042.41 H1297.19 V1042.41 H1298.31 V1078.46 H1299.42 V963.11 H1300.54 V991.94 H1301.65 V991.94 H1302.77 V1020.78 H1303.88 V1006.37 H1304.99 V1006.37 H1306.11 V1082.07 H1307.22 V1136.14 H1308.34 V1154.17 H1309.45 V1154.17 H1310.57 V1139.75 H1311.68 V1125.33 H1312.8 V1009.97 H1313.91 V1009.97 H1315.03 V945.08 H1316.14 V1006.37 H1317.26 V1150.57 H1318.37 V1168.59 H1319.49 V1121.72 H1320.6 V1121.72 H1321.72 V1161.38 H1322.83 V1121.72 H1323.95 V1121.72 H1325.06 V1168.59 H1326.18 V1020.78 H1327.29 V1038.81 H1328.4 V1038.81 H1329.52 V1038.81 H1330.63 V1114.51 H1331.75 V1114.51 H1332.86 V1128.93 H1333.98 V1132.54 H1335.09 V1150.57 H1336.21 V1150.57 H1337.32 V1190.22 H1338.44 V1204.64 H1339.55 V1204.64 H1340.67 V1208.24 H1341.78 V1208.24 H1342.9 V1143.36 H1344.01 V1143.36 H1345.13 V1128.93 H1346.24 V1164.98 H1347.36 V1164.98 H1348.47 V1172.19 H1349.58 V1168.59 H1350.7 V1168.59 H1351.81 V1168.59 H1352.93 V1183.01 H1354.04 V1179.4 H1355.16 V1179.4 H1356.27 V1175.8 H1357.39 V1183.01 H1358.5 V1320.0 Z M1532.41 1320.0 V1100.1 H1533.52 V1064.05 H1534.63 V1064.05 H1535.75 V1078.46 H1536.86 V1136.14 H1537.98 V970.31 H1539.09 V941.47 H1540.21 V959.5 H1541.32 V1035.2 H1542.44 V909.03 H1543.55 V909.03 H1544.67 V973.92 H1545.78 V858.56 H1546.9 V905.42 H1548.01 V1006.37 H1549.13 V1049.62 H1550.24 V955.89 H1551.36 V995.55 H1552.47 V1060.44 H1553.59 V995.55 H1554.7 V1013.58 H1555.82 V1017.18 H1556.93 V1078.46 H1558.04 V1024.39 H1559.16 V1006.37 H1560.27 V945.08 H1561.39 V970.31 H1562.5 V1035.2 H1563.62 V1035.2 H1564.73 V1096.49 H1565.85 V1082.07 H1566.96 V1082.07 H1568.08 V1074.86 H1569.19 V966.71 H1570.31 V934.26 H1571.42 V981.13 H1572.54 V941.47 H1573.65 V941.47 H1574.77 V1046.02 H1575.88 V970.31 H1577 V912.63 H1578.11 V941.47 H1579.22 V952.29 H1580.34 V952.29 H1581.45 V945.08 H1582.57 V945.08 H1583.68 V966.71 H1584.8 V977.52 H1585.91 V988.34 H1587.03 V963.11 H1588.14 V966.71 H1589.26 V1046.02 H1590.37 V1049.62 H1591.49 V1027.99 H1592.6 V1046.02 H1593.72 V1042.41 H1594.83 V1118.12 H1595.95 V1078.46 H1597.06 V1009.97 H1598.18 V1024.39 H1599.29 V1024.39 H1600.41 V1020.78 H1601.52 V1092.88 H1602.63 V1089.28 H1603.75 V1060.44 H1604.86 V1060.44 H1605.98 V1046.02 H1607.09 V988.34 H1608.21 V963.11 H1609.32 V1013.58 H1610.44 V995.55 H1611.55 V995.55 H1612.67 V1035.2 H1613.78 V1049.62 H1614.9 V1017.18 H1616.01 V1049.62 H1617.13 V1049.62 H1618.24 V1053.23 H1619.36 V1053.23 H1620.47 V1067.65 H1621.59 V1103.7 H1622.7 V966.71 H1623.82 V955.89 H1624.93 V1031.6 H1626.04 V1103.7 H1627.16 V1017.18 H1628.27 V1035.2 H1629.39 V1035.2 H1630.5 V1085.67 H1631.62 V1118.12 H1632.73 V1096.49 H1633.85 V1067.65 H1634.96 V1056.84 H1636.08 V1089.28 H1637.19 V1121.72 H1638.31 V1157.78 H1639.42 V1157.78 H1640.54 V1146.96 H1641.65 V1146.96 H1642.77 V1096.49 H1643.88 V1049.62 H1645 V1082.07 H1646.11 V1100.1 H1647.23 V1179.4 H1648.34 V1128.93 H1649.45 V1128.93 H1650.57 V1125.33 H1651.68 V1175.8 H1652.8 V1175.8 H1653.91 V1175.8 H1655.03 V1190.22 H1656.14 V1219.06 H1657.26 V1211.85 H1658.37 V1219.06 H1659.49 V1219.06 H1660.6 V1215.45 H1661.72 V1229.88 H1662.83 V1233.48 H1663.95 V1244.3 H1665.06 V1247.9 H1666.18 V1251.51 H1667.29 V1247.9 H1668.41 V1247.9 H1669.52 V1255.11 H1670.63 V1255.11 H1671.75 V1255.11 H1672.86 V1255.11 H1673.98 V1262.32 H1675.09 V1265.92 H1676.21 V1265.92 H1677.32 V1265.92 H1678.44 V1265.92 H1679.55 V1320.0 Z M1853.46 1320.0 V1255.11 H1854.57 V1255.11 H1855.68 V1262.32 H1856.8 V1258.71 H1857.91 V1197.43 H1859.03 V1114.51 H1860.14 V1150.57 H1861.26 V1114.51 H1862.37 V1114.51 H1863.49 V1078.46 H1864.6 V1110.91 H1865.72 V1110.91 H1866.83 V1107.31 H1867.95 V1049.62 H1869.06 V945.08 H1870.18 V909.03 H1871.29 V927.05 H1872.41 V977.52 H1873.52 V977.52 H1874.64 V1042.41 H1875.75 V912.63 H1876.87 V1042.41 H1877.98 V1096.49 H1879.09 V1107.31 H1880.21 V1107.31 H1881.32 V1121.72 H1882.44 V1121.72 H1883.55 V1125.33 H1884.67 V1125.33 H1885.78 V1136.14 H1886.9 V1089.28 H1888.01 V1053.23 H1889.13 V1049.62 H1890.24 V1089.28 H1891.36 V1038.81 H1892.47 V1053.23 H1893.59 V1056.84 H1894.7 V1064.05 H1895.82 V1064.05 H1896.93 V1121.72 H1898.05 V1074.86 H1899.16 V1074.86 H1900.27 V1031.6 H1901.39 V966.71 H1902.5 V970.31 H1903.62 V973.92 H1904.73 V1002.76 H1905.85 V1042.41 H1906.96 V963.11 H1908.08 V963.11 H1909.19 V948.68 H1910.31 V1017.18 H1911.42 V1064.05 H1912.54 V1085.67 H1913.65 V1096.49 H1914.77 V1110.91 H1915.88 V1139.75 H1917 V1139.75 H1918.11 V1125.33 H1919.23 V1125.33 H1920.34 V1046.02 H1921.46 V1100.1 H1922.57 V1136.14 H1923.68 V1082.07 H1924.8 V1060.44 H1925.91 V1100.1 H1927.03 V1100.1 H1928.14 V1128.93 H1929.26 V1082.07 H1930.37 V1082.07 H1931.49 V1074.86 H1932.6 V1071.25 H1933.72 V970.31 H1934.83 V1071.25 H1935.95 V1121.72 H1937.06 V1056.84 H1938.18 V1078.46 H1939.29 V1103.7 H1940.41 V1092.88 H1941.52 V1074.86 H1942.64 V1053.23 H1943.75 V1056.84 H1944.87 V984.73 H1945.98 V977.52 H1947.09 V991.94 H1948.21 V991.94 H1949.32 V1049.62 H1950.44 V1089.28 H1951.55 V1067.65 H1952.67 V1024.39 H1953.78 V1049.62 H1954.9 V1049.62 H1956.01 V1064.05 H1957.13 V1074.86 H1958.24 V1096.49 H1959.36 V1096.49 H1960.47 V1154.17 H1961.59 V1193.83 H1962.7 V1208.24 H1963.82 V1208.24 H1964.93 V1197.43 H1966.05 V1190.22 H1967.16 V1190.22 H1968.28 V1172.19 H1969.39 V1161.38 H1970.5 V1161.38 H1971.62 V1103.7 H1972.73 V1154.17 H1973.85 V1103.7 H1974.96 V1103.7 H1976.08 V1118.12 H1977.19 V1157.78 H1978.31 V1157.78 H1979.42 V1157.78 H1980.54 V1157.78 H1981.65 V1157.78 H1982.77 V1168.59 H1983.88 V1161.38 H1985 V1161.38 H1986.11 V1183.01 H1987.23 V1211.85 H1988.34 V1211.85 H1989.46 V1219.06 H1990.57 V1211.85 H1991.68 V1211.85 H1992.8 V1211.85 H1993.91 V1204.64 H1995.03 V1215.45 H1996.14 V1215.45 H1997.26 V1204.64 H1998.37 V1215.45 H1999.49 V1229.88 H2000.6 V1320.0 Z M2174.51 1320.0 V1168.59 H2175.62 V1121.72 H2176.73 V1074.86 H2177.85 V1071.25 H2178.96 V999.15 H2180.08 V991.94 H2181.19 V1049.62 H2182.31 V1121.72 H2183.42 V1060.44 H2184.54 V991.94 H2185.65 V1067.65 H2186.77 V1056.84 H2187.88 V916.24 H2189 V988.34 H2190.11 V945.08 H2191.23 V952.29 H2192.34 V1082.07 H2193.46 V1110.91 H2194.57 V1020.78 H2195.69 V948.68 H2196.8 V977.52 H2197.92 V934.26 H2199.03 V1006.37 H2200.14 V1038.81 H2201.26 V1027.99 H2202.37 V1035.2 H2203.49 V1078.46 H2204.6 V1053.23 H2205.72 V1031.6 H2206.83 V955.89 H2207.95 V934.26 H2209.06 V955.89 H2210.18 V1027.99 H2211.29 V966.71 H2212.41 V948.68 H2213.52 V1006.37 H2214.64 V981.13 H2215.75 V1049.62 H2216.87 V1031.6 H2217.98 V1024.39 H2219.1 V988.34 H2220.21 V1071.25 H2221.32 V1096.49 H2222.44 V1103.7 H2223.55 V1082.07 H2224.67 V1118.12 H2225.78 V1089.28 H2226.9 V1082.07 H2228.01 V1056.84 H2229.13 V1064.05 H2230.24 V1060.44 H2231.36 V1089.28 H2232.47 V1128.93 H2233.59 V1096.49 H2234.7 V1172.19 H2235.82 V1172.19 H2236.93 V1139.75 H2238.05 V1071.25 H2239.16 V1017.18 H2240.28 V1103.7 H2241.39 V1100.1 H2242.51 V1092.88 H2243.62 V1096.49 H2244.73 V1024.39 H2245.85 V1031.6 H2246.96 V1107.31 H2248.08 V1121.72 H2249.19 V1132.54 H2250.31 V1143.36 H2251.42 V1136.14 H2252.54 V1027.99 H2253.65 V1085.67 H2254.77 V1096.49 H2255.88 V1078.46 H2257 V1074.86 H2258.11 V1027.99 H2259.23 V912.63 H2260.34 V955.89 H2261.46 V948.68 H2262.57 V970.31 H2263.69 V1078.46 H2264.8 V1060.44 H2265.92 V1078.46 H2267.03 V1154.17 H2268.14 V1154.17 H2269.26 V1150.57 H2270.37 V1071.25 H2271.49 V1085.67 H2272.6 V1096.49 H2273.72 V1064.05 H2274.83 V1082.07 H2275.95 V1071.25 H2277.06 V1067.65 H2278.18 V1125.33 H2279.29 V1024.39 H2280.41 V966.71 H2281.52 V1042.41 H2282.64 V1096.49 H2283.75 V1053.23 H2284.87 V1074.86 H2285.98 V1128.93 H2287.1 V1100.1 H2288.21 V1125.33 H2289.33 V1132.54 H2290.44 V1085.67 H2291.55 V1024.39 H2292.67 V1013.58 H2293.78 V1006.37 H2294.9 V1092.88 H2296.01 V1100.1 H2297.13 V1121.72 H2298.24 V1146.96 H2299.36 V1118.12 H2300.47 V1125.33 H2301.59 V1190.22 H2302.7 V1204.64 H2303.82 V1219.06 H2304.93 V1208.24 H2306.05 V1208.24 H2307.16 V1215.45 H2308.28 V1215.45 H2309.39 V1219.06 H2310.51 V1215.45 H2311.62 V1219.06 H2312.73 V1226.27 H2313.85 V1222.66 H2314.96 V1219.06 H2316.08 V1262.32 H2317.19 V1301.97 H2318.31 V1305.58 H2319.42 V1312.79 H2320.54 V1305.58 H2321.65 V1320.0 Z" fill="#238e70"/>
<rect x="169.5" y="1321.5" width="2247.35" height="9" fill="url(#shb)"/>
<rect x="2415.85" y="817.3" width="11" height="505.7" fill="url(#shr)"/>
<line x1="167.5" y1="815.3" x2="167.5" y2="1320.0" stroke="#555" stroke-width="1.2"/>
<line x1="168.5" y1="1320.9" x2="2415.85" y2="1320.9" stroke="#707070" stroke-width="1.5"/>
<line x1="157" y1="1320.5" x2="167" y2="1320.5" stroke="#999"/>
<text x="134.28" y="1327.10" font-size="20.20" fill="#333" textLength="11.63" lengthAdjust="spacingAndGlyphs" xml:space="preserve" stroke="#333" stroke-width="0.45">0</text>
<line x1="157" y1="1247.5" x2="167" y2="1247.5" stroke="#999"/>
<text x="121.07" y="1254.10" font-size="20.20" fill="#333" textLength="24.90" lengthAdjust="spacingAndGlyphs" xml:space="preserve" stroke="#333" stroke-width="0.45">20</text>
<line x1="157" y1="1175.5" x2="167" y2="1175.5" stroke="#999"/>
<text x="121.70" y="1182.10" font-size="20.20" fill="#333" textLength="24.25" lengthAdjust="spacingAndGlyphs" xml:space="preserve" stroke="#333" stroke-width="0.45">40</text>
<line x1="157" y1="1103.5" x2="167" y2="1103.5" stroke="#999"/>
<text x="121.06" y="1110.10" font-size="20.20" fill="#333" textLength="24.91" lengthAdjust="spacingAndGlyphs" xml:space="preserve" stroke="#333" stroke-width="0.45">60</text>
<line x1="157" y1="1031.5" x2="167" y2="1031.5" stroke="#999"/>
<text x="121.23" y="1038.10" font-size="20.20" fill="#333" textLength="24.74" lengthAdjust="spacingAndGlyphs" xml:space="preserve" stroke="#333" stroke-width="0.45">80</text>
<line x1="157" y1="959.5" x2="167" y2="959.5" stroke="#999"/>
<text x="107.54" y="966.10" font-size="20.20" fill="#333" textLength="38.46" lengthAdjust="spacingAndGlyphs" xml:space="preserve" stroke="#333" stroke-width="0.45">100</text>
<line x1="157" y1="887.5" x2="167" y2="887.5" stroke="#999"/>
<text x="107.54" y="894.10" font-size="20.20" fill="#333" textLength="38.46" lengthAdjust="spacingAndGlyphs" xml:space="preserve" stroke="#333" stroke-width="0.45">120</text>
<line x1="157" y1="815.5" x2="167" y2="815.5" stroke="#999"/>
<text x="107.54" y="822.10" font-size="20.20" fill="#333" textLength="38.46" lengthAdjust="spacingAndGlyphs" xml:space="preserve" stroke="#333" stroke-width="0.45">140</text>
<line x1="168.5" y1="1321.5" x2="168.5" y2="1331.5" stroke="#aaa"/>
<text x="131.67" y="1356.70" font-size="20.20" fill="#111" textLength="75.07" lengthAdjust="spacingAndGlyphs" xml:space="preserve" stroke="#111" stroke-width="0.45">ven. 10</text>
<line x1="489.5" y1="1321.5" x2="489.5" y2="1331.5" stroke="#aaa"/>
<text x="449.92" y="1356.70" font-size="20.20" fill="#111" textLength="80.23" lengthAdjust="spacingAndGlyphs" xml:space="preserve" stroke="#111" stroke-width="0.45">sam. 11</text>
<line x1="810.5" y1="1321.5" x2="810.5" y2="1331.5" stroke="#aaa"/>
<text x="772.82" y="1356.70" font-size="20.20" fill="#111" textLength="76.14" lengthAdjust="spacingAndGlyphs" xml:space="preserve" stroke="#111" stroke-width="0.45">dim. 12</text>
<line x1="1131.5" y1="1321.5" x2="1131.5" y2="1331.5" stroke="#aaa"/>
<text x="1096.48" y="1356.70" font-size="20.20" fill="#111" textLength="70.10" lengthAdjust="spacingAndGlyphs" xml:space="preserve" stroke="#111" stroke-width="0.45">lun. 13</text>
<line x1="1452.5" y1="1321.5" x2="1452.5" y2="1331.5" stroke="#aaa"/>
<text x="1413.16" y="1356.70" font-size="20.20" fill="#111" textLength="78.41" lengthAdjust="spacingAndGlyphs" xml:space="preserve" stroke="#111" stroke-width="0.45">mar. 14</text>
<line x1="1773.5" y1="1321.5" x2="1773.5" y2="1331.5" stroke="#aaa"/>
<text x="1734.42" y="1356.70" font-size="20.20" fill="#111" textLength="78.20" lengthAdjust="spacingAndGlyphs" xml:space="preserve" stroke="#111" stroke-width="0.45">mer. 15</text>
<line x1="2094.5" y1="1321.5" x2="2094.5" y2="1331.5" stroke="#aaa"/>
<text x="2059.73" y="1356.70" font-size="20.20" fill="#111" textLength="71.77" lengthAdjust="spacingAndGlyphs" xml:space="preserve" stroke="#111" stroke-width="0.45">jeu. 16</text>
<g transform="translate(86,1081.8) rotate(-90)"><text x="-1.42" y="0.00" font-size="23.40" fill="#333" textLength="30.39" lengthAdjust="spacingAndGlyphs" xml:space="preserve" stroke="#333" stroke-width="0.6">kW</text></g>
<rect x="176.4" y="49" width="482" height="77.6" fill="#0a0a1a"/>
<defs><linearGradient id="eco" gradientUnits="userSpaceOnUse" x1="0" y1="65" x2="0" y2="112"><stop offset="0.64" stop-color="#00f0cc"/><stop offset="0.69" stop-color="#00b295"/><stop offset="1" stop-color="#00c6a5"/></linearGradient></defs>
<g fill="none" stroke="url(#eco)" stroke-width="6.2" stroke-linecap="round" stroke-linejoin="round"><path d="M191.6 94.2 H211.3 A9.8 12.4 0 1 0 208.2 104.4"/><path d="M197.6 75.6 L205.2 71.6"/><path d="M236.2 86.2 A9.3 12.4 0 1 0 236.2 103.2"/><ellipse cx="257.3" cy="94.7" rx="10.4" ry="12.4"/></g>
<g fill="none" stroke="#fff" stroke-width="6.2" stroke-linecap="round" stroke-linejoin="round"><path d="M275.6 85.8 L283.6 106.8 L293.8 92.6 L299.6 106.8 L313.9 68.4"/><path d="M316.2 84.2 C318.5 80.2 322.5 79.4 326.2 79.4 C332.6 79.4 335.8 82.6 335.8 88.6 V107.2"/><ellipse cx="324.6" cy="99.6" rx="8.6" ry="7.4"/><path d="M346.6 75 V100.5 C346.6 105.2 348.8 107.2 352.8 107.2"/><path d="M343.2 81.6 H352.2"/><path d="M362.2 75 V100.5 C362.2 105.2 364.6 107.2 370.2 107.2"/><path d="M358.2 81.6 H370.4"/></g>
<ellipse cx="433.6" cy="89.1" rx="25.9" ry="28" fill="#00b4e0"/>
<text x="416.77" y="96.40" font-size="23.50" fill="#fff" textLength="34.72" lengthAdjust="spacingAndGlyphs" xml:space="preserve">Rte</text>
<line x1="423" y1="89.7" x2="447" y2="89.7" stroke="#fff" stroke-width="1.5"/>
<text x="467.38" y="79.00" font-size="12.40" fill="#0a9fd2" textLength="49.86" lengthAdjust="spacingAndGlyphs" xml:space="preserve" stroke="#0a9fd2" stroke-width="0.25">Le réseau</text>
<text x="467.81" y="92.30" font-size="12.40" fill="#0a9fd2" textLength="61.67" lengthAdjust="spacingAndGlyphs" xml:space="preserve" stroke="#0a9fd2" stroke-width="0.25">de transport</text>
<text x="467.81" y="105.20" font-size="12.40" fill="#0a9fd2" textLength="58.00" lengthAdjust="spacingAndGlyphs" xml:space="preserve" stroke="#0a9fd2" stroke-width="0.25">d’électricité</text>
<rect x="546.5" y="61.4" width="100.5" height="55.7" fill="#fff"/>
<rect x="553" y="68.5" width="7.5" height="7.2" fill="#27348b"/><rect x="563.6" y="68.5" width="7.8" height="7.2" fill="#e1000f"/><rect x="560.5" y="68.5" width="3.1" height="7.2" fill="#b8b8c8"/>
<text x="552.55" y="85.00" font-size="8.30" font-weight="bold" fill="#1e1e1e" textLength="43.91" lengthAdjust="spacingAndGlyphs" xml:space="preserve">RÉPUBLIQUE</text>
<text x="552.53" y="92.80" font-size="8.30" font-weight="bold" fill="#1e1e1e" textLength="40.84" lengthAdjust="spacingAndGlyphs" xml:space="preserve">FRANÇAISE</text>
<rect x="553" y="97.5" width="11" height="1.6" fill="#aaa"/><rect x="553" y="102.5" width="10" height="1.6" fill="#aaa"/><rect x="553" y="107.8" width="14" height="1.6" fill="#aaa"/>
<rect x="607.1" y="66.7" width="34.7" height="44.5" fill="#fff" stroke="#3b6fc0" stroke-width="1"/>
<text x="611.52" y="74.70" font-size="6.90" font-weight="bold" fill="#e2231a" textLength="25.86" lengthAdjust="spacingAndGlyphs" xml:space="preserve">ADEME</text>
<ellipse cx="624.2" cy="87.2" rx="8.4" ry="8.8" fill="#2350b0"/><path d="M621 82 q3 2 2 5 q-2 3 1 6" stroke="#8fa8e0" stroke-width="1.4" fill="none"/>
<rect x="611.7" y="99.6" width="25.4" height="1.3" fill="#ee8088"/><rect x="611.7" y="103" width="25.4" height="1.3" fill="#ee8088"/><rect x="612.5" y="106.4" width="24" height="1.3" fill="#ee8088"/>
<rect x="169.4" y="136" width="491.4" height="3" fill="#dcdcdc"/>
<rect x="169.4" y="188.7" width="491.4" height="6" fill="#dcdcdc"/>
<rect x="169.4" y="253.5" width="491.4" height="4.9" fill="#dcdcdc"/>
<rect x="169.4" y="136" width="3.6" height="122.4" fill="#dcdcdc"/>
<rect x="288.5" y="136" width="5.9" height="122.4" fill="#dcdcdc"/>
<rect x="410.9" y="136" width="6" height="122.4" fill="#dcdcdc"/>
<rect x="532.4" y="136" width="6" height="122.4" fill="#dcdcdc"/>
<rect x="654.9" y="136" width="5.9" height="122.4" fill="#dcdcdc"/>
<rect x="173" y="194.7" width="115.5" height="58.8" fill="#f2f2f2"/>
<rect x="294.4" y="194.7" width="116.5" height="58.8" fill="#f2f2f2"/>
<rect x="416.9" y="194.7" width="115.5" height="58.8" fill="#f2f2f2"/>
<rect x="538.4" y="194.7" width="116.5" height="58.8" fill="#f2f2f2"/>
<text x="222.03" y="174.80" font-size="34.10" fill="#000" textLength="21.46" lengthAdjust="spacingAndGlyphs" xml:space="preserve" stroke="#000" stroke-width="0.6">J</text>
<text x="312.28" y="174.80" font-size="34.10" fill="#000" textLength="19.99" lengthAdjust="spacingAndGlyphs" xml:space="preserve" stroke="#000" stroke-width="0.6">J</text>
<text x="345.35" y="173.80" font-size="30.00" fill="#000" textLength="17.31" lengthAdjust="spacingAndGlyphs" xml:space="preserve">+</text>
<path d="M380.8 158.6 L388.2 151.6 L388.2 174.8" fill="none" stroke="#111" stroke-width="2.5" stroke-linejoin="miter"/>
<text x="434.29" y="174.80" font-size="34.10" fill="#000" textLength="19.38" lengthAdjust="spacingAndGlyphs" xml:space="preserve" stroke="#000" stroke-width="0.6">J</text>
<text x="467.25" y="173.80" font-size="30.00" fill="#000" textLength="17.31" lengthAdjust="spacingAndGlyphs" xml:space="preserve">+</text>
<text x="499.42" y="174.80" font-size="34.10" font-weight="bold" fill="#000" textLength="18.94" lengthAdjust="spacingAndGlyphs" xml:space="preserve">2</text>
<text x="555.66" y="174.80" font-size="34.10" fill="#000" textLength="20.60" lengthAdjust="spacingAndGlyphs" xml:space="preserve" stroke="#000" stroke-width="0.6">J</text>
<text x="589.70" y="173.80" font-size="30.00" fill="#000" textLength="16.71" lengthAdjust="spacingAndGlyphs" xml:space="preserve">+</text>
<text x="620.06" y="174.40" font-size="33.30" fill="#000" textLength="21.00" lengthAdjust="spacingAndGlyphs" xml:space="preserve" stroke="#000" stroke-width="1.0">3</text>
<defs><linearGradient id="tq" x1="0" y1="0" x2="0" y2="1"><stop offset="0" stop-color="#00cdab"/><stop offset="1" stop-color="#00b794"/></linearGradient><clipPath id="imgc"><rect x="0" y="0" width="106" height="55"/></clipPath></defs>
<g transform="translate(180,194.8) scale(1,1)" clip-path="url(#imgc)"><rect width="106" height="55" fill="url(#tq)"/><path d="M16 0 C 36 13, 52 24, 71 24 C 88 24, 100 19, 106 16 L106 0 Z" fill="#00f0c9"/><path d="M29 0 C 45 7, 58 11, 71 11 C 86 11, 98 7, 106 3.8 L106 0 Z" fill="#00a68b"/></g>
<g transform="translate(302,196.1) scale(1,1.01)" clip-path="url(#imgc)"><rect width="106" height="55" fill="url(#tq)"/><path d="M16 0 C 36 13, 52 24, 71 24 C 88 24, 100 19, 106 16 L106 0 Z" fill="#00f0c9"/><path d="M29 0 C 45 7, 58 11, 71 11 C 86 11, 98 7, 106 3.8 L106 0 Z" fill="#00a68b"/></g>
<g transform="translate(423.9,196.1) scale(1,1.01)" clip-path="url(#imgc)"><rect width="106" height="55" fill="url(#tq)"/><path d="M16 0 C 36 13, 52 24, 71 24 C 88 24, 100 19, 106 16 L106 0 Z" fill="#00f0c9"/><path d="M29 0 C 45 7, 58 11, 71 11 C 86 11, 98 7, 106 3.8 L106 0 Z" fill="#00a68b"/></g>
<g transform="translate(544,196.1) scale(1,1.01)" clip-path="url(#imgc)"><rect width="106" height="55" fill="url(#tq)"/><path d="M16 0 C 36 13, 52 24, 71 24 C 88 24, 100 19, 106 16 L106 0 Z" fill="#00f0c9"/><path d="M29 0 C 45 7, 58 11, 71 11 C 86 11, 98 7, 106 3.8 L106 0 Z" fill="#00a68b"/></g>
<defs><filter id="tsh" x="-5%" y="-30%" width="115%" height="170%"><feGaussianBlur in="SourceAlpha" stdDeviation="2"/><feOffset dx="3" dy="-1"/><feComponentTransfer><feFuncA type="linear" slope="0.2"/></feComponentTransfer><feMerge><feMergeNode/><feMergeNode in="SourceGraphic"/></feMerge></filter></defs>
<path d="M1990 67 H2406 V90.5 Q2406 96.5 2400 96.5 H1990 Z" fill="#fff" filter="url(#tsh)"/>
<rect x="1985" y="50" width="425" height="17.5" fill="#fff"/>
<text x="2111.28" y="89.20" font-size="26.50" font-weight="bold" fill="#000" textLength="172.86" lengthAdjust="spacingAndGlyphs" xml:space="preserve">LHB-site-L634</text>
<rect x="1992.2" y="108" width="411.8" height="56.8" rx="9" ry="9" fill="#fff" stroke="#7d7d7d" stroke-width="3.2"/>
<text x="2050.28" y="148.00" font-size="28.60" fill="#000" textLength="314.85" lengthAdjust="spacingAndGlyphs" xml:space="preserve" stroke="#000" stroke-width="0.5">Consommation: 823 kWh</text>
<rect x="1992.2" y="179.1" width="411.8" height="56.3" rx="9" ry="9" fill="#fff" stroke="#7d7d7d" stroke-width="3.2"/>
<text x="2104.10" y="217.70" font-size="28.60" fill="#000" textLength="205.70" lengthAdjust="spacingAndGlyphs" xml:space="preserve" stroke="#000" stroke-width="0.5">P Max :  113 kW</text>
<rect x="1992.2" y="248.6" width="411.8" height="56.8" rx="9" ry="9" fill="#fff" stroke="#7d7d7d" stroke-width="3.2"/>
<text x="2126.36" y="287.40" font-size="28.60" fill="#000" textLength="161.54" lengthAdjust="spacingAndGlyphs" xml:space="preserve" stroke="#000" stroke-width="0.5">P min : 1 kW</text>
<rect x="1047.8" y="542.3" width="522" height="69.7" rx="10" ry="10" fill="#fff" fill-opacity="0.9"/>
<text x="1173.22" y="589.10" font-size="30.50" font-weight="bold" fill="#0d1a14" textLength="282.78" lengthAdjust="spacingAndGlyphs" xml:space="preserve">jeudi 16 avril 2026</text>
<rect x="562.3" y="806.6" width="411.1" height="56.8" rx="9" ry="9" fill="#fff" stroke="#7d7d7d" stroke-width="3.2"/>
<text x="608.27" y="845.80" font-size="29.00" fill="#000" textLength="338.95" lengthAdjust="spacingAndGlyphs" xml:space="preserve" stroke="#000" stroke-width="0.5">Consommation: 4 347 kWh</text>
<rect x="1099.9" y="806.6" width="411.8" height="56.8" rx="9" ry="9" fill="#fff" stroke="#7d7d7d" stroke-width="3.2"/>
<text x="1211.89" y="845.80" font-size="29.00" fill="#000" textLength="206.30" lengthAdjust="spacingAndGlyphs" xml:space="preserve" stroke="#000" stroke-width="0.5">P Max :  128 kW</text>
<rect x="1610" y="806.3" width="411.8" height="56.8" rx="9" ry="9" fill="#fff" stroke="#7d7d7d" stroke-width="3.2"/>
<text x="1743.76" y="845.50" font-size="29.00" fill="#000" textLength="161.64" lengthAdjust="spacingAndGlyphs" xml:space="preserve" stroke="#000" stroke-width="0.5">P min : 1 kW</text>
<rect x="2322.3" y="1322.2" width="115.5" height="56.6" fill="#fff"/>
<circle cx="2349.5" cy="1348.4" r="12.9" fill="none" stroke="#0b6db8" stroke-width="4.8" stroke-dasharray="71 10"/>
<rect x="2348" y="1348.6" width="16.6" height="4.6" fill="#0b6db8"/>
<path d="M2368.5 1344 C2368.5 1335 2384 1334 2385 1343 C2385.5 1349 2377 1353 2371.5 1359 L2385 1359 L2385 1363.5 L2366.5 1363.5 L2366.5 1359.5 C2372 1353 2380 1348 2380 1343.5 C2380 1338.5 2373 1339 2373 1344 Z" fill="#0b6db8"/>
<path d="M2391.8 1324.5 L2383 1338.5 L2392.5 1340 L2389.3 1362.7 L2399.5 1339 L2393.5 1337.5 Z" fill="#e85b26"/>
<path d="M2404 1339 L2424 1339 L2420 1345 L2400 1345 Z M2398 1348 L2418 1348 L2414 1354 L2394 1354 Z M2393 1357 L2417 1357 L2413 1363 L2389 1363 Z" fill="#f39020"/>
<text x="2393.51" y="1335.00" font-size="7.00" font-weight="bold" fill="#e8622a" textLength="30.78" lengthAdjust="spacingAndGlyphs" xml:space="preserve">FRANCE</text>
<rect x="2340" y="1366" width="74" height="1.5" fill="#5a9ad4" fill-opacity="0.7"/>
</svg>
<div style="position:absolute;right:0;top:0;width:1px;height:1415px;background:#000"></div>
<div style="position:absolute;left:0;bottom:0;width:2511px;height:1px;background:#000"></div>
</body></html>
